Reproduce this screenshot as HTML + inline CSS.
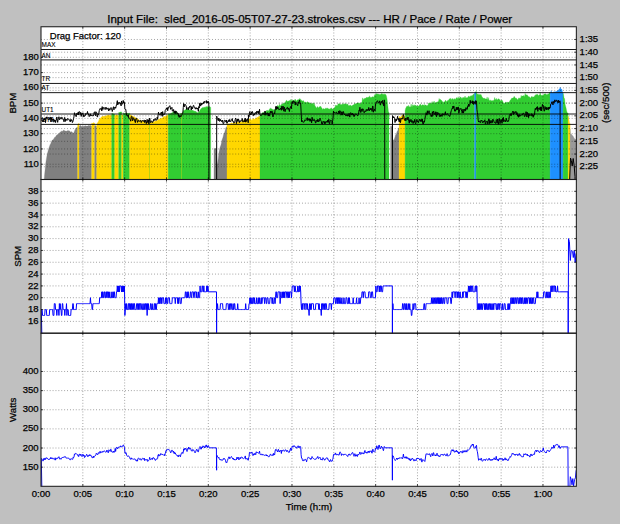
<!DOCTYPE html>
<html><head><meta charset="utf-8"><title>HR / Pace / Rate / Power</title>
<style>
html,body{margin:0;padding:0;background:#c0c0c0;}
body{width:620px;height:524px;overflow:hidden;position:relative;}
svg text{font-family:"Liberation Sans",Arial,Helvetica,sans-serif;stroke:#000;stroke-width:0.25px;}
</style></head><body>
<svg width="620" height="524" viewBox="0 0 620 524" style="position:absolute;left:0;top:0;display:block">
<defs><clipPath id="c1"><rect x="41" y="26.75" width="535.35" height="152.75"/></clipPath>
<clipPath id="c2"><rect x="41" y="179.5" width="535.35" height="153.7"/></clipPath>
<clipPath id="c3"><rect x="41" y="333.2" width="535.35" height="153.1"/></clipPath></defs>
<rect x="0" y="0" width="620" height="524" fill="#c0c0c0"/>
<rect x="41" y="26.75" width="535.35" height="152.75" fill="#fff"/>
<rect x="41" y="179.5" width="535.35" height="153.7" fill="#fff"/>
<rect x="41" y="333.2" width="535.35" height="153.1" fill="#fff"/>
<g clip-path="url(#c1)">
<path d="M44.2 179.5L44.2 179.07L44.7 173.61L45.2 168.7L45.7 163.65L46.2 160.14L46.7 157.18L47.2 154.38L47.7 152.38L48.2 150.42L48.7 148.7L49.2 147.29L49.7 145.76L50.2 144.51L50.7 143.67L51.2 142.17L51.7 141.27L52.2 140.09L52.7 139.95L53.2 139.49L53.7 139.03L54.2 138.21L54.7 137.22L55.2 137.19L55.7 136.5L56.2 135.78L56.7 135.09L57.2 134.64L57.7 134.51L58.2 134.3L58.7 133.65L59.2 133.46L59.7 132.61L60.2 132.29L60.7 131.85L61.2 131.4L61.7 131.1L62.2 131.27L62.7 131.17L63.2 130.4L63.7 129.94L64.2 130.45L64.7 130.72L65.2 130.96L65.7 131.12L66.2 131.36L66.7 131.1L67.2 130.71L67.7 130.7L68.2 130.24L68.7 130.98L69.2 130.75L69.7 131.07L70.2 131.75L70.7 132.03L71.2 131.69L71.7 131.81L72.2 131.92L72.7 132.97L73.2 133.62L73.7 132.78L74.2 131.65L74.7 130.46L75.2 129.4L75.7 128.5L76.2 127.91L76.7 127.51L77.2 127.08L77.7 127.08L77.7 179.5Z" fill="#808080" stroke="#808080" stroke-width="0.3"/>
<path d="M77.7 179.5L77.7 124.04L78.2 123.82L78.7 123.6L79.2 123.6L79.2 179.5Z" fill="#ffd700" stroke="#ffd700" stroke-width="0.3"/>
<path d="M79.2 179.5L79.2 126.43L79.7 125.85L80.2 125.55L80.7 125.56L81.2 126.27L81.7 126.51L82.2 126.04L82.7 126.41L83.2 126.61L83.7 126.2L84.2 125.75L84.7 126.19L85.2 125.95L85.7 125.56L86.2 126.24L86.7 126.04L87.2 125.91L87.7 126.06L88.2 125.76L88.7 125.36L89.2 125.59L89.7 125.68L90.2 125.32L90.7 125.55L91.2 126.09L91.7 126.09L91.7 179.5Z" fill="#808080" stroke="#808080" stroke-width="0.3"/>
<path d="M91.7 179.5L91.7 123.06L92.2 123.33L92.7 123.4L93.2 122.95L93.7 122.56L94.2 123.1L94.7 123.1L94.7 179.5Z" fill="#ffd700" stroke="#ffd700" stroke-width="0.3"/>
<path d="M94.7 179.5L94.7 126.08L95.2 125.81L95.7 125.58L96.2 126.2L96.7 126.2L96.7 179.5Z" fill="#808080" stroke="#808080" stroke-width="0.3"/>
<path d="M96.7 179.5L96.7 124.64L97.2 123.25L97.7 122.58L98.2 121.82L98.7 120.77L99.2 119.54L99.7 118.86L100.2 118.47L100.7 117.81L101.2 117.35L101.7 116.74L102.2 116.47L102.7 116.37L103.2 116.35L103.7 116.19L104.2 116.62L104.7 115.85L105.2 116.38L105.7 115.7L106.2 115.98L106.7 115.36L107.2 115.48L107.7 115.27L108.2 114.77L108.7 115.35L109.2 115.6L109.7 115.08L110.2 115.38L110.7 115.16L111.2 115.59L111.7 115.59L111.7 179.5Z" fill="#ffd700" stroke="#ffd700" stroke-width="0.3"/>
<path d="M111.7 179.5L111.7 113.57L112.2 113.57L112.7 113.39L113.2 113.76L113.7 114.09L114.2 114.3L114.7 114.3L114.7 179.5Z" fill="#32cd32" stroke="#32cd32" stroke-width="0.3"/>
<path d="M114.7 179.5L114.7 115.46L115.2 115.16L115.7 115.46L116.2 114.82L116.7 114.69L117.2 115.16L117.7 115.01L118.2 115.54L118.7 115.54L118.7 179.5Z" fill="#ffd700" stroke="#ffd700" stroke-width="0.3"/>
<path d="M118.7 179.5L118.7 112.49L119.2 112.56L119.7 112.32L120.2 111.98L120.7 111.93L121.2 111.9L121.7 111.9L121.7 179.5Z" fill="#32cd32" stroke="#32cd32" stroke-width="0.3"/>
<path d="M121.7 179.5L121.7 114.7L122.2 114.9L122.7 115.07L123.2 115.07L123.2 179.5Z" fill="#ffd700" stroke="#ffd700" stroke-width="0.3"/>
<path d="M123.2 179.5L123.2 112.74L123.7 113.15L124.2 113.14L124.7 113.67L125.2 113.03L125.7 113.13L126.2 113.18L126.7 113.08L127.2 113.59L127.7 113.12L128.2 113.66L128.7 113.35L129.2 113.2L129.7 113.2L129.7 179.5Z" fill="#32cd32" stroke="#32cd32" stroke-width="0.3"/>
<path d="M129.7 179.5L129.7 114.98L130.2 115.19L130.7 115.07L131.2 114.89L131.7 115.91L132.2 115.88L132.7 115.72L133.2 116.39L133.7 116.69L134.2 116.75L134.7 116.91L135.2 117.69L135.7 117.63L136.2 117.82L136.7 118.65L137.2 118.53L137.7 118.82L138.2 118.92L138.7 119.74L139.2 120.24L139.7 120.22L140.2 120.25L140.7 120.15L141.2 120.8L141.7 120.8L142.2 121.29L142.7 121.09L143.2 121.47L143.7 120.94L144.2 120.98L144.7 121.89L145.2 122.07L145.7 122.22L146.2 122.16L146.7 122.19L147.2 121.97L147.7 121.92L148.2 122.48L148.7 122.86L149.2 122.62L149.7 123L150.2 122.58L150.7 122.76L151.2 122.27L151.7 122.34L152.2 122.08L152.7 122.14L153.2 121.63L153.7 121.71L154.2 121.81L154.7 121.24L155.2 120.98L155.7 121.09L156.2 120.83L156.7 120.63L157.2 120.56L157.7 120.13L158.2 119.39L158.7 119.14L159.2 119.29L159.7 118.91L160.2 118.82L160.7 118.22L161.2 117.9L161.7 118.19L162.2 118.03L162.7 117.63L163.2 116.71L163.7 116.71L164.2 115.94L164.7 116.46L165.2 116.63L165.7 116.33L166.2 115.56L166.7 115.74L167.2 114.97L167.7 115.22L168.2 115.22L168.2 179.5Z" fill="#ffd700" stroke="#ffd700" stroke-width="0.3"/>
<path d="M168.2 179.5L168.2 114.35L168.7 113.6L169.2 114.05L169.7 113.63L170.2 113.75L170.7 113.52L171.2 113.11L171.7 113.17L172.2 112.34L172.7 112.72L173.2 112.24L173.7 111.64L174.2 111.66L174.7 111.32L175.2 111.13L175.7 111.94L176.2 111.89L176.7 112.05L177.2 112.4L177.7 112.68L178.2 113.65L178.7 114.21L179.2 114.4L179.7 114.42L180.2 113.74L180.7 113.74L181.2 113.09L181.7 113.42L182.2 113.09L182.7 112.44L183.2 111.27L183.7 110.26L184.2 110.55L184.7 110.15L185.2 109.85L185.7 109.81L186.2 108.82L186.7 108.81L187.2 108.81L187.7 109.35L188.2 109.36L188.7 109.21L189.2 110L189.7 109.68L190.2 110.12L190.7 110.48L191.2 110.08L191.7 110.45L192.2 110.37L192.7 110.22L193.2 110.26L193.7 111.19L194.2 111.06L194.7 111.26L195.2 111.44L195.7 111.09L196.2 111.84L196.7 112.28L197.2 112.78L197.7 112.56L198.2 112.43L198.7 111.99L199.2 111.53L199.7 110.77L200.2 109.67L200.7 109.15L201.2 108.28L201.7 108.46L202.2 107.8L202.7 107.58L203.2 107.78L203.7 107.18L204.2 107.44L204.7 107.1L205.2 107.4L205.7 106.7L206.2 106.54L206.7 106.82L207.2 106.72L207.7 106.52L208.2 106.65L208.7 106.45L209.2 106.68L209.7 106.38L210.2 107.19L210.7 107.19L210.7 179.5Z" fill="#32cd32" stroke="#32cd32" stroke-width="0.3"/>
<path d="M214 179.5L214 147.88L214.5 148.67L215 148.56L215.5 148.59L216 148.64L216.5 147.82L217 163.95L217.5 163.46L218 160.18L218.5 156.36L219 152.24L219.5 149.82L220 147.61L220.5 146.11L221 145L221.5 142.29L222 140.02L222.5 138.61L223 137.23L223.5 135.09L224 133.34L224.5 132.8L225 131.1L225.5 129.17L226 127.61L226.5 126.83L227 126.83L227 179.5Z" fill="#808080" stroke="#808080" stroke-width="0.3"/>
<path d="M227 179.5L227 123.57L227.5 123.79L228 123.94L228.5 123.8L229 123.8L229.5 124.32L230 123.11L230.5 124.07L231 123.21L231.5 122.5L232 123.38L232.5 123.39L233 123.29L233.5 122.66L234 123.28L234.5 122.71L235 123.12L235.5 122.41L236 122.62L236.5 122.8L237 122.37L237.5 122.31L238 121.53L238.5 122.11L239 122.4L239.5 121.56L240 121.8L240.5 122.16L241 121.2L241.5 121.97L242 122.31L242.5 121.02L243 120.72L243.5 120.25L244 120.27L244.5 119.94L245 120.42L245.5 120.18L246 120.1L246.5 120.29L247 120.16L247.5 120.76L248 120.86L248.5 119.8L249 119.44L249.5 118.84L250 119.05L250.5 118.7L251 119.47L251.5 119.89L252 120.38L252.5 119.19L253 118.3L253.5 119.05L254 118.73L254.5 119.41L255 118.72L255.5 118.21L256 117.41L256.5 118.27L257 117.71L257.5 117.14L258 116.68L258.5 116.83L259 116.8L259.5 115.99L260 115.99L260 179.5Z" fill="#ffd700" stroke="#ffd700" stroke-width="0.3"/>
<path d="M260 179.5L260 113.79L260.5 114.48L261 114.29L261.5 113.75L262 113.04L262.5 112.34L263 113.83L263.5 112.32L264 112.56L264.5 112.28L265 111.74L265.5 112.05L266 111.88L266.5 110.26L267 110.87L267.5 110.37L268 110.56L268.5 110.69L269 110.18L269.5 109.06L270 108.43L270.5 108.13L271 108.57L271.5 108.8L272 108.93L272.5 109.16L273 110L273.5 109.47L274 110.12L274.5 109.86L275 108.96L275.5 107.94L276 106.75L276.5 107.31L277 106.5L277.5 105.54L278 105.61L278.5 106.37L279 105.48L279.5 103.93L280 106.11L280.5 105.85L281 104.81L281.5 104.39L282 103.78L282.5 104.34L283 103.72L283.5 102.78L284 103.57L284.5 103.2L285 102.87L285.5 102L286 100.87L286.5 100.31L287 100.75L287.5 101.71L288 100.75L288.5 101.19L289 100.83L289.5 100.5L290 100.48L290.5 100.48L291 99.12L291.5 101.02L292 100.34L292.5 100.4L293 99.97L293.5 100.45L294 100.61L294.5 100.48L295 98.97L295.5 99.49L296 100.62L296.5 101.04L297 100.22L297.5 99.64L298 100.04L298.5 99.85L299 99.05L299.5 98.6L300 99.38L300.5 98.9L301 100.35L301.5 100.2L302 100.7L302.5 100.95L303 101.04L303.5 100.53L304 101.65L304.5 102.22L305 102.24L305.5 102.13L306 102.44L306.5 102.52L307 102.43L307.5 101.62L308 102.37L308.5 103.01L309 102.36L309.5 102.95L310 103.02L310.5 102.95L311 103.24L311.5 103.76L312 104.09L312.5 103.16L313 102.93L313.5 103.12L314 105.34L314.5 103.4L315 106.26L315.5 106.26L316 107.49L316.5 108.15L317 107.04L317.5 106.42L318 107.55L318.5 107.68L319 107.13L319.5 106.85L320 106.3L320.5 106.5L321 106.48L321.5 107.78L322 108.37L322.5 109.73L323 108.44L323.5 108.82L324 108.84L324.5 109.28L325 108.58L325.5 108.75L326 107.72L326.5 108.53L327 108.72L327.5 107.9L328 108.18L328.5 109.12L329 108.72L329.5 108.89L330 109.58L330.5 108.39L331 107.78L331.5 108.21L332 108.44L332.5 109.19L333 108.63L333.5 108.84L334 108.45L334.5 107.33L335 107.57L335.5 105.22L336 105L336.5 105.61L337 105.9L337.5 105.24L338 104.04L338.5 103.89L339 103.46L339.5 103.75L340 103.9L340.5 104.49L341 104.49L341.5 104.41L342 104.91L342.5 103.44L343 103.74L343.5 104.21L344 104.29L344.5 103.91L345 103.43L345.5 103.87L346 104.06L346.5 104.29L347 104.5L347.5 103.79L348 104.47L348.5 105.63L349 105.44L349.5 105.58L350 105.23L350.5 104.98L351 105.76L351.5 106.13L352 105.4L352.5 105.45L353 105.12L353.5 104.76L354 104.77L354.5 103.84L355 103.56L355.5 104.04L356 103.75L356.5 102.99L357 103.6L357.5 102.89L358 103L358.5 102.72L359 103.15L359.5 103.06L360 103.53L360.5 104.15L361 102.69L361.5 102.43L362 101.94L362.5 97.94L363 98.13L363.5 99.76L364 99.52L364.5 98.33L365 98.58L365.5 98.06L366 98.24L366.5 97.31L367 97.32L367.5 97.84L368 96.99L368.5 97.32L369 97.61L369.5 95.72L370 97.36L370.5 97.7L371 96.8L371.5 97.81L372 96.98L372.5 96.74L373 96.71L373.5 97.21L374 96.4L374.5 94.97L375 94.26L375.5 94.69L376 94.6L376.5 93.78L377 93.61L377.5 94.21L378 93.69L378.5 94.42L379 94.11L379.5 94.72L380 94.2L380.5 94.67L381 93.86L381.5 93.92L382 93.36L382.5 94.53L383 94.02L383.5 94.66L384 93.65L384.5 94.25L385 94.38L385.5 94.34L386 94.86L386.5 96.27L387 98.64L387.5 102.86L388 107.28L388.5 112.21L389 112.21L389 179.5Z" fill="#32cd32" stroke="#32cd32" stroke-width="0.3"/>
<path d="M390.6 179.5L390.6 126.83L391.1 125.57L391.6 126.4L392.1 126.72L392.6 140.11L393.1 140.61L393.6 139.79L394.1 139.79L394.6 138.21L395.1 136.65L395.6 134.85L396.1 134.38L396.6 133.46L397.1 131.3L397.6 131.19L398.1 129.21L398.6 127.93L399.1 127.93L399.1 179.5Z" fill="#808080" stroke="#808080" stroke-width="0.3"/>
<path d="M399.1 179.5L399.1 116.2L399.6 116.4L400.1 116.97L400.6 117.27L401.1 116.83L401.6 116.12L402.1 115.32L402.6 114.84L403.1 115.34L403.6 115.63L404.1 115.48L404.6 116.27L405.1 116.27L405.1 179.5Z" fill="#ffd700" stroke="#ffd700" stroke-width="0.3"/>
<path d="M405.1 179.5L405.1 110.8L405.6 108.53L406.1 107.53L406.6 106.54L407.1 105.97L407.6 106.17L408.1 107.12L408.6 105.26L409.1 106.18L409.6 107.1L410.1 107.23L410.6 106.81L411.1 104L411.6 106.29L412.1 106.88L412.6 104.48L413.1 106.22L413.6 105.21L414.1 104.69L414.6 105.41L415.1 105.42L415.6 104.96L416.1 105.79L416.6 105.97L417.1 106.17L417.6 105.98L418.1 105.7L418.6 106.25L419.1 105.72L419.6 104.74L420.1 104.54L420.6 104.07L421.1 105.32L421.6 105.63L422.1 104.94L422.6 104.74L423.1 104.74L423.6 105.12L424.1 105.99L424.6 104.41L425.1 105.05L425.6 105.07L426.1 105L426.6 105.79L427.1 106.14L427.6 105.11L428.1 104.73L428.6 103.03L429.1 102.95L429.6 103.32L430.1 103.65L430.6 102.9L431.1 103.23L431.6 102.7L432.1 101.42L432.6 103.37L433.1 102.72L433.6 102.33L434.1 101L434.6 102.58L435.1 103.31L435.6 102.54L436.1 102.82L436.6 102.11L437.1 101.65L437.6 102.11L438.1 101.85L438.6 100.96L439.1 98.43L439.6 99.74L440.1 99.48L440.6 99.56L441.1 99.93L441.6 100.53L442.1 101.04L442.6 101.71L443.1 102.45L443.6 102.29L444.1 101.62L444.6 102.21L445.1 101.09L445.6 100.08L446.1 101.05L446.6 101.64L447.1 101.28L447.6 100.54L448.1 100.54L448.6 99.98L449.1 99.2L449.6 98.78L450.1 99.08L450.6 97.94L451.1 99.94L451.6 98.92L452.1 98.82L452.6 98.48L453.1 99.31L453.6 99.63L454.1 98.4L454.6 99.12L455.1 99.29L455.6 99.19L456.1 98.03L456.6 97.5L457.1 98.31L457.6 98.6L458.1 96.72L458.6 98.3L459.1 98.2L459.6 97.86L460.1 97.21L460.6 96.97L461.1 97.85L461.6 98.73L462.1 97.28L462.6 98.79L463.1 97.44L463.6 97.52L464.1 98.16L464.6 97.09L465.1 96.01L465.6 98.17L466.1 97.33L466.6 98.11L467.1 97.89L467.6 97.49L468.1 96.59L468.6 96.25L469.1 96.15L469.6 97.28L470.1 96.13L470.6 96.19L471.1 95.43L471.6 96.02L472.1 96.22L472.6 95.05L473.1 94.57L473.6 94.3L474.1 93.83L474.6 93.83L474.6 179.5Z" fill="#32cd32" stroke="#32cd32" stroke-width="0.3"/>
<path d="M474.6 179.5L474.6 93.35L475.1 92.06L475.6 91.99L476.1 91.99L476.1 179.5Z" fill="#1e90ff" stroke="#1e90ff" stroke-width="0.3"/>
<path d="M476.1 179.5L476.1 91.04L476.6 93.31L477.1 93.75L477.6 94.14L478.1 94.39L478.6 94.28L479.1 94.7L479.6 94.24L480.1 94.9L480.6 94.44L481.1 94.57L481.6 96.03L482.1 97.05L482.6 97.46L483.1 98.1L483.6 98.29L484.1 98.8L484.6 98.11L485.1 98.44L485.6 98.96L486.1 99.04L486.6 99.1L487.1 96.93L487.6 99.2L488.1 99.83L488.6 97.59L489.1 100.76L489.6 100.5L490.1 99.74L490.6 100.76L491.1 100.28L491.6 101.04L492.1 100.52L492.6 100.78L493.1 100.85L493.6 100.29L494.1 100.27L494.6 97.45L495.1 98.67L495.6 99.39L496.1 100.07L496.6 98.25L497.1 99.43L497.6 100.07L498.1 98.95L498.6 98.8L499.1 98.89L499.6 99.86L500.1 100.23L500.6 100.88L501.1 100.21L501.6 99.76L502.1 101.06L502.6 100.61L503.1 102.61L503.6 102.75L504.1 103.61L504.6 102.89L505.1 102.6L505.6 102.25L506.1 102.57L506.6 102.25L507.1 102.03L507.6 102.21L508.1 102.73L508.6 102.3L509.1 102.34L509.6 101.36L510.1 100.31L510.6 99.98L511.1 99.26L511.6 98.2L512.1 98.08L512.6 98.24L513.1 97.83L513.6 97.82L514.1 96.33L514.6 96.86L515.1 97.76L515.6 98.34L516.1 98.18L516.6 98.25L517.1 99.25L517.6 99.64L518.1 99.4L518.6 98.11L519.1 97.76L519.6 98.41L520.1 97.9L520.6 98.47L521.1 95.33L521.6 96.79L522.1 96.1L522.6 96.06L523.1 95.81L523.6 95.4L524.1 96.4L524.6 96.28L525.1 93.35L525.6 94.75L526.1 94.87L526.6 95.03L527.1 94.73L527.6 95.5L528.1 95.96L528.6 97.01L529.1 96.52L529.6 97.11L530.1 97.66L530.6 98.34L531.1 97.11L531.6 96.48L532.1 96.37L532.6 97.37L533.1 96.95L533.6 96.94L534.1 96.64L534.6 95.74L535.1 95.56L535.6 94.66L536.1 94.66L536.6 94.56L537.1 94.74L537.6 93.91L538.1 95.54L538.6 95.61L539.1 95.04L539.6 95L540.1 92.5L540.6 94.52L541.1 94.96L541.6 95.53L542.1 95.83L542.6 94.99L543.1 95.27L543.6 94.63L544.1 93.88L544.6 93.96L545.1 93.69L545.6 93.77L546.1 94.46L546.6 94.47L547.1 94.74L547.6 94.34L548.1 93.68L548.6 94.27L549.1 93.31L549.6 92.43L550.1 92.43L550.1 179.5Z" fill="#32cd32" stroke="#32cd32" stroke-width="0.3"/>
<path d="M550.1 179.5L550.1 92.88L550.6 92.74L551.1 90.6L551.6 91.86L552.1 92.44L552.6 92.9L553.1 92.48L553.6 92.2L554.1 91.39L554.6 91.95L555.1 91.67L555.6 91.79L556.1 91.27L556.6 91.62L557.1 91.03L557.6 90.63L558.1 90.34L558.6 90.12L559.1 89.06L559.6 89.02L560.1 87.04L560.6 88.52L561.1 89.12L561.6 88.99L562.1 90.12L562.6 92.5L563.1 92.5L563.1 179.5Z" fill="#1e90ff" stroke="#1e90ff" stroke-width="0.3"/>
<path d="M563.1 179.5L563.1 93.44L563.6 95.38L564.1 98.06L564.6 98.8L565.1 104.18L565.6 106.13L566.1 108.11L566.6 110.65L567.1 112.4L567.6 113.09L568.1 113.09L568.1 179.5Z" fill="#32cd32" stroke="#32cd32" stroke-width="0.3"/>
<path d="M568.1 179.5L568.1 116L568.6 117.76L569.1 120.24L569.6 123.5L570.1 123.5L570.1 179.5Z" fill="#ffd700" stroke="#ffd700" stroke-width="0.3"/>
<path d="M570.1 179.5L570.1 128.84L570.6 134.07L571.1 133.98L571.6 134.51L572.1 134.98L572.6 135.86L573.1 136.07L573.6 137.24L574.1 137.65L574.6 138.66L575.1 139.12L575.6 139.6L576.1 139.53L576.6 139.53L576.6 179.5Z" fill="#808080" stroke="#808080" stroke-width="0.3" fill-opacity="0.8" stroke-opacity="0.5"/>
<rect x="149.3" y="122.8" width="0.6" height="57" fill="#32cd32" fill-opacity="0.6"/>
<rect x="181.0" y="113.2" width="0.55" height="67" fill="#ffd700" fill-opacity="0.6"/>
</g>
<path d="M82.83 26.75V179.5M124.66 26.75V179.5M166.49 26.75V179.5M208.32 26.75V179.5M250.15 26.75V179.5M291.98 26.75V179.5M333.81 26.75V179.5M375.64 26.75V179.5M417.47 26.75V179.5M459.3 26.75V179.5M501.13 26.75V179.5M542.96 26.75V179.5M82.83 179.5V333.2M124.66 179.5V333.2M166.49 179.5V333.2M208.32 179.5V333.2M250.15 179.5V333.2M291.98 179.5V333.2M333.81 179.5V333.2M375.64 179.5V333.2M417.47 179.5V333.2M459.3 179.5V333.2M501.13 179.5V333.2M542.96 179.5V333.2M82.83 333.2V486.3M124.66 333.2V486.3M166.49 333.2V486.3M208.32 333.2V486.3M250.15 333.2V486.3M291.98 333.2V486.3M333.81 333.2V486.3M375.64 333.2V486.3M417.47 333.2V486.3M459.3 333.2V486.3M501.13 333.2V486.3M542.96 333.2V486.3M41 164.22H576.35M41 148.95H576.35M41 133.68H576.35M41 118.4H576.35M41 103.12H576.35M41 87.85H576.35M41 72.58H576.35M41 57.3H576.35M41 39.48H576.35M41 52.21H576.35M41 64.94H576.35M41 77.67H576.35M41 90.4H576.35M41 103.12H576.35M41 115.85H576.35M41 128.58H576.35M41 141.31H576.35M41 154.04H576.35M41 166.77H576.35M41 321.38H576.35M41 309.55H576.35M41 297.73H576.35M41 285.91H576.35M41 274.08H576.35M41 262.26H576.35M41 250.44H576.35M41 238.62H576.35M41 226.79H576.35M41 214.97H576.35M41 203.15H576.35M41 191.32H576.35M41 467.16H576.35M41 448.02H576.35M41 428.89H576.35M41 409.75H576.35M41 390.61H576.35M41 371.48H576.35" stroke="#000" stroke-opacity="0.62" stroke-width="0.65" stroke-dasharray="0.9 2.0" fill="none"/>
<path d="M41 49.5H576.35" stroke="#000" stroke-width="0.9" fill="none"/>
<path d="M41 59.9H576.35" stroke="#000" stroke-width="0.9" fill="none"/>
<path d="M41 83.45H576.35" stroke="#000" stroke-width="0.9" fill="none"/>
<path d="M41 92.65H576.35" stroke="#000" stroke-width="0.9" fill="none"/>
<path d="M41 114H576.35" stroke="#000" stroke-width="0.9" fill="none"/>
<path d="M41 124.4H576.35" stroke="#000" stroke-width="0.9" fill="none"/>
<text x="41.6" y="47.2" font-size="6.4" fill="#000" style="stroke-width:0.12px">MAX</text>
<text x="41.6" y="57.6" font-size="6.4" fill="#000" style="stroke-width:0.12px">AN</text>
<text x="41.6" y="81.15" font-size="6.4" fill="#000" style="stroke-width:0.12px">TR</text>
<text x="41.6" y="90.35" font-size="6.4" fill="#000" style="stroke-width:0.12px">AT</text>
<text x="41.6" y="111.7" font-size="6.4" fill="#000" style="stroke-width:0.12px">UT1</text>
<text x="41.6" y="122.1" font-size="6.4" fill="#000" style="stroke-width:0.12px">UT2</text>
<text x="49.8" y="38.6" font-size="9.5" fill="#000">Drag Factor: 120</text>
<g clip-path="url(#c1)">
<path d="M41.3 120.72L41.72 119.63L42.14 119.99L42.56 120.31L42.98 122L43.4 120.95L43.82 118.46L44.24 120.09L44.66 118.61L45.08 118.04L45.5 122.59L45.92 119.84L46.34 118.03L46.76 116.84L47.18 118.82L47.6 118.95L48.02 119.46L48.44 119.44L48.86 119.76L49.28 117.77L49.7 119.68L50.12 119.38L50.54 117.3L50.96 121.5L51.38 117.78L51.8 119.75L52.22 119.15L52.64 120.67L53.06 120.5L53.48 119.01L53.9 122.2L54.32 121.04L54.74 119.75L55.16 119.95L55.58 122.55L56 120.05L56.42 119.87L56.84 116.99L57.26 120.16L57.68 122.36L58.1 119.7L58.52 118.51L58.94 116.79L59.36 119.81L59.78 119.09L60.2 118.42L60.62 117.56L61.04 119.2L61.46 118.47L61.88 117.16L62.3 118.31L62.72 119.36L63.14 119.54L63.56 119.37L63.98 121.78L64.4 117.64L64.82 117.39L65.24 121.54L65.66 119.02L66.08 119.74L66.5 119.38L66.92 120.57L67.34 119.45L67.76 118.46L68.18 119.48L68.6 118.87L69.02 119.35L69.44 120.74L69.86 120.72L70.28 121.92L70.7 119.46L71.12 120.87L71.54 119.64L71.96 120.43L72.38 122.54L72.8 121.86L73.22 120.09L73.64 118.34L74.06 116.36L74.48 112.73L74.9 114.03L75.32 115.34L75.74 115.22L76.16 116.7L76.58 114.17L77 113.05L77.42 114.57L77.84 114.42L78.26 111.97L78.68 114.99L79.1 111.54L79.52 111.72L79.94 111.98L80.36 114.4L80.78 112.52L81.2 116.42L81.62 113.54L82.04 113.64L82.46 113.92L82.88 112.77L83.3 116.72L83.72 114.83L84.14 116.47L84.56 116.33L84.98 115.28L85.4 115.45L85.82 113.4L86.24 113.84L86.66 114.26L87.08 113.62L87.5 111.49L87.92 114.02L88.34 113.76L88.76 115.26L89.18 116.65L89.6 116.09L90.02 114.07L90.44 113.9L90.86 116.05L91.28 115.09L91.7 115.49L92.12 115.74L92.54 115.96L92.96 115.18L93.38 115.73L93.8 114.28L94.22 112.21L94.64 111.77L95.06 114.36L95.48 115.72L95.9 111.74L96.32 112.82L96.74 112.8L97.16 116.36L97.58 117.12L98 113.63L98.42 114.71L98.84 113.53L99.26 110.62L99.68 109.22L100.1 108.57L100.52 109.36L100.94 108.38L101.36 108.39L101.78 111.03L102.2 106.62L102.62 109.3L103.04 109.6L103.46 107.49L103.88 107.68L104.3 107.94L104.72 107.73L105.14 109.58L105.56 108.85L105.98 107.05L106.4 109.21L106.82 108.48L107.24 109.23L107.66 108.5L108.08 107.89L108.5 110.8L108.92 109.11L109.34 108.62L109.76 110.35L110.18 109.6L110.6 108.48L111.02 107.51L111.44 109.33L111.86 109.23L112.28 111.53L112.7 109.65L113.12 107.81L113.54 106.72L113.96 109.83L114.38 107.48L114.8 107.68L115.22 106.94L115.64 108.32L116.06 106.71L116.48 104.74L116.9 103.37L117.32 100.63L117.74 105.03L118.16 102.29L118.58 103.62L119 103.42L119.42 102.36L119.84 102.73L120.26 104.27L120.68 102.79L121.1 105.91L121.52 100.96L121.94 103.39L122.36 104.07L122.78 104.18L123.2 100.42L123.62 103.07L124.04 101.66L124.46 102.7L124.88 108.79L125.3 109.62L125.72 109.22L126.14 112.08L126.56 115.11L126.98 115.07L127.4 116.22L127.82 116.08L128.24 114.81L128.66 117.86L129.08 117.74L129.5 118.39L129.92 119.05L130.34 119.92L130.76 121.22L131.18 116.72L131.6 116.21L132.02 116.81L132.44 120.72L132.86 119.37L133.28 117.67L133.7 118.55L134.12 120.31L134.54 119.55L134.96 121.81L135.38 122.68L135.8 118.76L136.22 118.27L136.64 118.2L137.06 120.52L137.48 122.42L137.9 120.58L138.32 120.2L138.74 121.24L139.16 121.69L139.58 120.87L140 120.37L140.42 120.33L140.84 121.8L141.26 122.56L141.68 121.11L142.1 120.27L142.52 120.47L142.94 121.52L143.36 121.31L143.78 121.07L144.2 119.88L144.62 122.55L145.04 121.88L145.46 120.08L145.88 122.15L146.3 123.64L146.72 121.15L147.14 119.37L147.56 121.94L147.98 122.77L148.4 119.69L148.82 123.93L149.24 122.86L149.66 118.04L150.08 119.96L150.5 122.6L150.92 122.6L151.34 121.4L151.76 120.72L152.18 122.52L152.6 122.53L153.02 121.1L153.44 121.07L153.86 119.16L154.28 120.25L154.7 120.33L155.12 118.78L155.54 118.6L155.96 120.4L156.38 119.96L156.8 120.06L157.22 117.1L157.64 119.26L158.06 115.8L158.48 112.09L158.9 113.98L159.32 114.36L159.74 115.08L160.16 115.2L160.58 113.39L161 112.63L161.42 112.06L161.84 115.57L162.26 116.35L162.68 111.6L163.1 115.3L163.52 114.86L163.94 114L164.36 114.11L164.78 114.36L165.2 110.44L165.62 109.78L166.04 109.94L166.46 107.89L166.88 108.91L167.3 107.7L167.72 110.71L168.14 107.58L168.56 108.21L168.98 106.52L169.4 106.43L169.82 105.67L170.24 107.13L170.66 109.37L171.08 108.81L171.5 108.34L171.92 107.34L172.34 111.06L172.76 110.99L173.18 110.96L173.6 109.47L174.02 112.65L174.44 111.44L174.86 113.4L175.28 110.82L175.7 113.47L176.12 111.7L176.54 111.38L176.96 112.84L177.38 114.01L177.8 113.09L178.22 113.62L178.64 116.45L179.06 117.46L179.48 117.11L179.9 115.22L180.32 116.38L180.74 117.09L181.16 116.02L181.58 115.76L182 114.49L182.42 113.37L182.84 113.11L183.26 107.66L183.68 103.54L184.1 106.91L184.52 106.56L184.94 104.12L185.36 104.84L185.78 105.18L186.2 105.9L186.62 109.41L187.04 107.7L187.46 107.94L187.88 108.37L188.3 109.92L188.72 107.4L189.14 108.23L189.56 106.22L189.98 106.81L190.4 105.86L190.82 106.08L191.24 110.09L191.66 106.84L192.08 107.2L192.5 108.83L192.92 106.88L193.34 105.41L193.76 105.44L194.18 107.16L194.6 107.91L195.02 108.28L195.44 109.18L195.86 107.54L196.28 108.63L196.7 107.81L197.12 109.14L197.54 108.12L197.96 109.41L198.38 111.33L198.8 106.59L199.22 107.98L199.64 103.29L200.06 102.87L200.48 105.99L200.9 105.76L201.32 103.28L201.74 104.88L202.16 103.25L202.58 103.81L203 104.01L203.42 102.12L203.84 103.39L204.26 101.21L204.68 102.49L205.1 102.52L205.52 102.11L205.94 101.54L206.36 100.59L206.78 103.2L207.2 101.55L207.62 103.05L208.04 101.05L208.46 101.54L208.88 105.48L208.98 219.5L216.6 219.5L216.7 116.15L217.12 117.43L217.54 118.45L217.96 120.27L218.38 120.8L218.8 118.01L219.22 120.42L219.64 121.43L220.06 119.04L220.48 120.83L220.9 119.97L221.32 120.33L221.74 121.83L222.16 121.37L222.58 120.2L223 123.63L223.42 123.57L223.84 123.43L224.26 120.32L224.68 120.23L225.1 120.27L225.52 121.03L225.94 122.11L226.36 119.97L226.78 123.25L227.2 123.26L227.62 121.6L228.04 120.71L228.46 121.57L228.88 119.81L229.3 121.58L229.72 119.45L230.14 121.35L230.56 121.92L230.98 121.08L231.4 120.31L231.82 119.25L232.24 118.57L232.66 121.37L233.08 121.37L233.5 121.37L233.92 123.29L234.34 122.51L234.76 122.37L235.18 119.48L235.6 117.99L236.02 119.62L236.44 123.55L236.86 120.91L237.28 118.86L237.7 121.31L238.12 121.46L238.54 119.06L238.96 120.44L239.38 122.66L239.8 120.82L240.22 120.59L240.64 121.54L241.06 121.4L241.48 119.93L241.9 119.36L242.32 118.47L242.74 121.96L243.16 121.67L243.58 121.97L244 120.59L244.42 119.5L244.84 122.02L245.26 118.05L245.68 122.2L246.1 119.46L246.52 121.36L246.94 120.47L247.36 118.81L247.78 119.89L248.2 122.77L248.62 115.09L249.04 116.69L249.46 113.34L249.88 111.57L250.3 114.94L250.72 113.55L251.14 114.74L251.56 111.87L251.98 113.22L252.4 111.49L252.82 112.75L253.24 115.71L253.66 114.32L254.08 113.84L254.5 115.15L254.92 112.89L255.34 112.46L255.76 112.62L256.18 114.23L256.6 111.45L257.02 110.98L257.44 112.63L257.86 112.03L258.28 111.03L258.7 113.8L259.12 111.66L259.54 109.26L259.96 114.91L260.38 115.48L260.8 115.32L261.22 115.44L261.64 115.06L262.06 114.82L262.48 113.54L262.9 113.36L263.32 113.14L263.74 114.26L264.16 114.93L264.58 114.73L265 110.98L265.42 113.11L265.84 115.29L266.26 113.28L266.68 113.36L267.1 113.1L267.52 112.84L267.94 115.07L268.36 115.89L268.78 113.23L269.2 116.16L269.62 115.29L270.04 113.24L270.46 111.24L270.88 112.91L271.3 112.85L271.72 111.24L272.14 111.14L272.56 114.56L272.98 116.92L273.4 114.29L273.82 113.65L274.24 112.72L274.66 113.97L275.08 110.26L275.5 108.45L275.92 106.36L276.34 109.5L276.76 106.54L277.18 108.93L277.6 107.02L278.02 107.47L278.44 108.47L278.86 109.76L279.28 109.46L279.7 109.69L280.12 109.08L280.54 108.15L280.96 109.4L281.38 110.27L281.8 106.19L282.22 109.25L282.64 109.32L283.06 106.13L283.48 109.16L283.9 111.24L284.32 107.18L284.74 109.3L285.16 111.64L285.58 109.04L286 108.63L286.42 108.84L286.84 109.01L287.26 107.16L287.68 107.42L288.1 109.54L288.52 108.15L288.94 109.24L289.36 111.55L289.78 109.05L290.2 107.96L290.62 106.63L291.04 106.47L291.46 108.62L291.88 102.69L292.3 101.47L292.72 103.63L293.14 101.8L293.56 100.72L293.98 102.14L294.4 102.27L294.82 101.62L295.24 105.1L295.66 102.14L296.08 103.73L296.5 104.21L296.92 104.1L297.34 104.71L297.76 105.75L298.18 101.86L298.6 103.36L299.02 102.16L299.44 100.14L299.86 101.68L300.28 104.04L300.7 103.44L301.12 111.97L301.54 121.63L301.96 120.19L302.38 121.75L302.8 121.72L303.22 121.63L303.64 122.38L304.06 121.81L304.48 121.31L304.9 119.67L305.32 120.05L305.74 120.31L306.16 120.41L306.58 119.59L307 117.69L307.42 117.81L307.84 120.69L308.26 119.05L308.68 118.73L309.1 119.99L309.52 118.68L309.94 121.38L310.36 118.85L310.78 120.93L311.2 120.2L311.62 123.01L312.04 117.22L312.46 118.21L312.88 120.92L313.3 120.66L313.72 120.03L314.14 119.25L314.56 120.6L314.98 120.36L315.4 122.89L315.82 123.02L316.24 120.72L316.66 121.19L317.08 119.92L317.5 121.53L317.92 119.23L318.34 121.36L318.76 122.06L319.18 120.16L319.6 120.58L320.02 118.14L320.44 119.58L320.86 120.69L321.28 121.32L321.7 123.75L322.12 123.22L322.54 124.26L322.96 121.53L323.38 122.18L323.8 121.37L324.22 122.07L324.64 123.72L325.06 121.51L325.48 123.42L325.9 122.82L326.32 121.67L326.74 121.41L327.16 122.08L327.58 120.27L328 122.49L328.42 121.79L328.84 119.29L329.26 123.57L329.68 123.9L330.1 121.01L330.52 120.6L330.94 119.92L331.36 120.72L331.78 121.33L332.2 124.01L332.62 120.82L333.04 117.86L333.46 111.16L333.88 112.91L334.3 112.37L334.72 112.98L335.14 113.23L335.56 112.82L335.98 112.52L336.4 112.14L336.82 113.17L337.24 113.88L337.66 113.44L338.08 113.97L338.5 110.99L338.92 112.42L339.34 113.78L339.76 110.65L340.18 111.1L340.6 111.27L341.02 115.16L341.44 113.52L341.86 111.77L342.28 115.1L342.7 113.06L343.12 111.41L343.54 111.78L343.96 114.09L344.38 114.83L344.8 113.95L345.22 114.7L345.64 114.9L346.06 116.02L346.48 114.79L346.9 114.43L347.32 114.38L347.74 116.2L348.16 115.6L348.58 115.59L349 113.43L349.42 115.88L349.84 117.1L350.26 113.62L350.68 112.65L351.1 113.85L351.52 115.03L351.94 113.5L352.36 113.05L352.78 115.06L353.2 115.32L353.62 113.93L354.04 116.68L354.46 114.8L354.88 115.47L355.3 114.27L355.72 113.97L356.14 114.18L356.56 114.35L356.98 115.34L357.4 115.34L357.82 115.87L358.24 114.74L358.66 113.01L359.08 110.06L359.5 110.71L359.92 107.28L360.34 112.05L360.76 112.51L361.18 109.16L361.6 109.28L362.02 111.5L362.44 108.75L362.86 109.62L363.28 109.25L363.7 110.47L364.12 112.79L364.54 112.12L364.96 111.34L365.38 110.92L365.8 111.64L366.22 109.34L366.64 109.72L367.06 110.88L367.48 109.88L367.9 109.29L368.32 110.17L368.74 107.44L369.16 110.85L369.58 110.02L370 108.77L370.42 108.28L370.84 109.9L371.26 108.71L371.68 108.59L372.1 111.42L372.52 106.18L372.94 106.01L373.36 112.21L373.78 110.43L374.2 109.79L374.62 109.09L375.04 111.15L375.46 103.9L375.88 104.31L376.3 101.94L376.72 101.99L377.14 101.25L377.56 100.69L377.98 101.9L378.4 103.01L378.82 102.92L379.24 102.48L379.66 100.84L380.08 104.68L380.5 104.94L380.92 102.67L381.34 101.32L381.76 102.77L382.18 101.72L382.6 100.48L383.02 104.24L383.44 102.76L383.86 106.06L384.28 99.87L384.7 102.43L384.8 219.5L392.4 219.5L392.5 115.63L392.92 116.29L393.34 118.02L393.76 116.74L394.18 117.23L394.6 118.72L395.02 122.53L395.44 120.73L395.86 119.1L396.28 121.08L396.7 118.94L397.12 118.73L397.54 116.3L397.96 119.67L398.38 120.28L398.8 118.31L399.22 122.07L399.64 119.38L400.06 118.33L400.48 122.62L400.9 119.94L401.32 118.73L401.74 118.04L402.16 118.83L402.58 119.06L403 116.21L403.42 114.46L403.84 116.54L404.26 119.59L404.68 119.16L405.1 120.87L405.52 118.25L405.94 120.59L406.36 118.48L406.78 117.86L407.2 117.65L407.62 119.66L408.04 117.03L408.46 120.13L408.88 121.06L409.3 123.18L409.72 119.61L410.14 121.18L410.56 121.56L410.98 119.42L411.4 120.3L411.82 122.45L412.24 121.35L412.66 120.64L413.08 123.52L413.5 121.94L413.92 121.25L414.34 122.26L414.76 119.28L415.18 122.46L415.6 123.85L416.02 122.78L416.44 120.08L416.86 119.4L417.28 121.88L417.7 120.95L418.12 121.26L418.54 122.69L418.96 120.52L419.38 119.23L419.8 120.48L420.22 119.64L420.64 121.49L421.06 120.3L421.48 119.5L421.9 121.68L422.32 118.88L422.74 123.58L423.16 124.18L423.58 123.02L424 120.97L424.42 122.21L424.84 119.62L425.26 116.86L425.68 115.46L426.1 112.7L426.52 113.13L426.94 115.06L427.36 110.77L427.78 113.37L428.2 113.67L428.62 112.25L429.04 110.72L429.46 112.76L429.88 114.16L430.3 113.69L430.72 114.73L431.14 116.45L431.56 115.31L431.98 116.65L432.4 111.7L432.82 115.58L433.24 112.79L433.66 111.18L434.08 112.81L434.5 114.36L434.92 113.67L435.34 114.83L435.76 111.73L436.18 115.79L436.6 116.75L437.02 112.14L437.44 113.77L437.86 115.19L438.28 112.88L438.7 113.06L439.12 114.16L439.54 114.11L439.96 116.86L440.38 115.06L440.8 115.95L441.22 114.45L441.64 115.1L442.06 116.42L442.48 113.87L442.9 113.67L443.32 114.59L443.74 113.9L444.16 115.27L444.58 114.6L445 113.25L445.42 111.7L445.84 115.15L446.26 115L446.68 114.65L447.1 113.91L447.52 113.62L447.94 114.59L448.36 115.2L448.78 115.06L449.2 115.82L449.62 116.48L450.04 115.29L450.46 114.71L450.88 112.01L451.3 110.68L451.72 109.39L452.14 108.31L452.56 108.73L452.98 106L453.4 108.27L453.82 105.94L454.24 108.64L454.66 111.19L455.08 109.63L455.5 111.21L455.92 109.88L456.34 107.3L456.76 109.91L457.18 107.46L457.6 109.62L458.02 107.07L458.44 107.12L458.86 113.27L459.28 111.11L459.7 109.44L460.12 108.61L460.54 109.26L460.96 108.46L461.38 109.62L461.8 111.59L462.22 113.07L462.64 110.92L463.06 109.06L463.48 113.05L463.9 111.27L464.32 109.63L464.74 108.98L465.16 111.11L465.58 108.98L466 107.58L466.42 108.2L466.84 109.66L467.26 109.27L467.68 106.16L468.1 106.45L468.52 104.08L468.94 106.59L469.36 105.25L469.78 105.15L470.2 100.31L470.62 103.16L471.04 101.92L471.46 102.27L471.88 102.7L472.3 100.75L472.72 103.85L473.14 101.21L473.56 104.46L473.98 103.35L474.4 101.67L474.82 103.24L475.24 104.26L475.66 100.64L476.08 101.21L476.5 101.09L476.92 109.45L477.34 112.68L477.76 114.77L478.18 120.14L478.6 122.06L479.02 120.85L479.44 121.25L479.86 121.89L480.28 122.7L480.7 121.25L481.12 120.18L481.54 121.04L481.96 120.52L482.38 122.66L482.8 122.23L483.22 122.48L483.64 121.21L484.06 121.93L484.48 120.47L484.9 119.76L485.32 124.01L485.74 124.11L486.16 121.32L486.58 121.54L487 121.47L487.42 121.31L487.84 124.02L488.26 121.5L488.68 119.03L489.1 118.77L489.52 123.61L489.94 120.53L490.36 121.91L490.78 123.19L491.2 120.47L491.62 121.73L492.04 123.1L492.46 122.19L492.88 119.1L493.3 120.54L493.72 120.4L494.14 122.35L494.56 122.82L494.98 122.31L495.4 123.2L495.82 123.61L496.24 119.57L496.66 120.26L497.08 122.94L497.5 118.99L497.92 122.56L498.34 124.46L498.76 121.1L499.18 118.41L499.6 121.55L500.02 123.62L500.44 122.52L500.86 119.54L501.28 119.53L501.7 121.99L502.12 123.33L502.54 118.51L502.96 120.62L503.38 117.41L503.8 121.83L504.22 120.48L504.64 120.02L505.06 119.67L505.48 122.01L505.9 121.43L506.32 118.29L506.74 120.51L507.16 120.58L507.58 121.64L508 120.9L508.42 121.35L508.84 119.8L509.26 116.7L509.68 115.74L510.1 114.16L510.52 115.38L510.94 113.42L511.36 115.55L511.78 113.9L512.2 112.41L512.62 112.09L513.04 111.02L513.46 114.66L513.88 112.33L514.3 113.53L514.72 113.17L515.14 111.64L515.56 112.32L515.98 111.5L516.4 114.55L516.82 112.59L517.24 112.77L517.66 116.2L518.08 114.74L518.5 117.22L518.92 114.53L519.34 114.29L519.76 116.43L520.18 115.16L520.6 115.22L521.02 115.64L521.44 114.77L521.86 114.81L522.28 115.09L522.7 113.74L523.12 114.15L523.54 113.23L523.96 113.55L524.38 116.45L524.8 116.54L525.22 115.54L525.64 113.5L526.06 111.67L526.48 113.51L526.9 117.04L527.32 112.33L527.74 114.38L528.16 113.61L528.58 117.62L529 113.75L529.42 115.49L529.84 116L530.26 115.36L530.68 114.68L531.1 114.38L531.52 113.68L531.94 116.07L532.36 114.39L532.78 115.1L533.2 117.29L533.62 114.81L534.04 114.97L534.46 115.01L534.88 110.79L535.3 108.35L535.72 109.81L536.14 108.76L536.56 107.44L536.98 109.31L537.4 106.55L537.82 111.36L538.24 108.17L538.66 108.24L539.08 107.83L539.5 109.47L539.92 107.94L540.34 106.89L540.76 110.63L541.18 106.97L541.6 111L542.02 107.89L542.44 104.38L542.86 106.05L543.28 105.6L543.7 108.87L544.12 111.02L544.54 111.05L544.96 106.5L545.38 107.65L545.8 109.39L546.22 107.39L546.64 109.88L547.06 107.46L547.48 108.94L547.9 109.62L548.32 109.87L548.74 107.09L549.16 108.96L549.58 107.23L550 108.15L550.42 105.98L550.84 104.04L551.26 103.78L551.68 102.07L552.1 101.6L552.52 102.96L552.94 104.88L553.36 103.51L553.78 101.34L554.2 102.69L554.62 100.14L555.04 99.75L555.46 101.71L555.88 101.27L556.3 101.23L556.72 100.13L557.14 100.51L557.56 102.42L557.98 102.32L558.4 100.13L558.82 102.91L559.24 102.2L559.66 101.03L560.08 100.81L560.18 219.5L569.4 209.5L569.7 179L570.5 158L571.3 160.5L572.2 166L573.2 158.5L574.2 166L575 176.5L575.6 199.5" stroke="#000" stroke-width="1.0" stroke-linejoin="round" fill="none"/>
</g>
<g clip-path="url(#c2)">
<path d="M41.9 338.2L41.3 309.55L41.72 309.55L42.14 309.55L42.56 315.47L42.98 315.47L43.4 315.47L43.82 315.47L44.24 315.47L44.66 315.47L45.08 309.55L45.5 309.55L45.92 309.55L46.34 309.55L46.76 315.47L47.18 315.47L47.6 315.47L48.02 315.47L48.44 315.47L48.86 315.47L49.28 315.47L49.7 309.55L50.12 309.55L50.54 309.55L50.96 309.55L51.38 309.55L51.8 309.55L52.22 309.55L52.64 309.55L53.06 315.47L53.48 315.47L53.9 315.47L54.32 303.64L54.74 303.64L55.16 303.64L55.58 309.55L56 309.55L56.42 309.55L56.84 315.47L57.26 309.55L57.68 309.55L58.1 309.55L58.52 309.55L58.94 315.47L59.36 303.64L59.78 309.55L60.2 303.64L60.62 309.55L61.04 309.55L61.46 315.47L61.88 315.47L62.3 303.64L62.72 303.64L63.14 309.55L63.56 309.55L63.98 309.55L64.4 309.55L64.82 315.47L65.24 309.55L65.66 309.55L66.08 309.55L66.5 303.64L66.92 315.47L67.34 309.55L67.76 309.55L68.18 309.55L68.6 315.47L69.02 315.47L69.44 315.47L69.86 315.47L70.28 315.47L70.7 315.47L71.12 309.55L71.54 309.55L71.96 309.55L72.38 309.55L72.8 303.64L73.22 303.64L73.64 309.55L74.06 309.55L74.48 309.55L74.9 309.55L75.32 309.55L75.74 309.55L76.16 309.55L76.58 303.64L77 303.64L77.42 303.64L77.84 303.64L78.26 303.64L78.68 303.64L79.1 303.64L79.52 303.64L79.94 303.64L80.36 303.64L80.78 303.64L81.2 303.64L81.62 303.64L82.04 303.64L82.46 303.64L82.88 303.64L83.3 303.64L83.72 303.64L84.14 303.64L84.56 303.64L84.98 303.64L85.4 303.64L85.82 303.64L86.24 303.64L86.66 303.64L87.08 303.64L87.5 303.64L87.92 303.64L88.34 303.64L88.76 303.64L89.18 303.64L89.6 303.64L90.02 303.64L90.44 297.73L90.86 303.64L91.28 303.64L91.7 303.64L92.12 309.55L92.54 309.55L92.96 303.64L93.38 303.64L93.8 303.64L94.22 303.64L94.64 303.64L95.06 303.64L95.48 303.64L95.9 303.64L96.32 303.64L96.74 303.64L97.16 303.64L97.58 303.64L98 303.64L98.42 303.64L98.84 303.64L99.26 303.64L99.68 297.73L100.1 297.73L100.52 297.73L100.94 297.73L101.36 297.73L101.78 291.82L102.2 297.73L102.62 291.82L103.04 291.82L103.46 297.73L103.88 297.73L104.3 291.82L104.72 291.82L105.14 297.73L105.56 297.73L105.98 291.82L106.4 291.82L106.82 297.73L107.24 291.82L107.66 291.82L108.08 297.73L108.5 291.82L108.92 297.73L109.34 297.73L109.76 291.82L110.18 297.73L110.6 297.73L111.02 297.73L111.44 297.73L111.86 291.82L112.28 297.73L112.7 297.73L113.12 291.82L113.54 297.73L113.96 291.82L114.38 291.82L114.8 297.73L115.22 297.73L115.64 297.73L116.06 297.73L116.48 291.82L116.9 291.82L117.32 285.91L117.74 291.82L118.16 285.91L118.58 291.82L119 285.91L119.42 291.82L119.84 285.91L120.26 285.91L120.68 285.91L121.1 285.91L121.52 291.82L121.94 285.91L122.36 291.82L122.78 285.91L123.2 291.82L123.62 285.91L124.04 291.82L124.46 285.91L124.88 315.47L125.3 309.55L125.72 303.64L126.14 309.55L126.56 303.64L126.98 309.55L127.4 309.55L127.82 309.55L128.24 303.64L128.66 303.64L129.08 309.55L129.5 303.64L129.92 303.64L130.34 309.55L130.76 303.64L131.18 309.55L131.6 303.64L132.02 303.64L132.44 309.55L132.86 303.64L133.28 303.64L133.7 309.55L134.12 303.64L134.54 303.64L134.96 309.55L135.38 309.55L135.8 309.55L136.22 309.55L136.64 303.64L137.06 303.64L137.48 303.64L137.9 309.55L138.32 303.64L138.74 309.55L139.16 303.64L139.58 303.64L140 309.55L140.42 303.64L140.84 303.64L141.26 303.64L141.68 309.55L142.1 309.55L142.52 309.55L142.94 303.64L143.36 309.55L143.78 309.55L144.2 303.64L144.62 309.55L145.04 309.55L145.46 303.64L145.88 303.64L146.3 309.55L146.72 303.64L147.14 315.47L147.56 303.64L147.98 309.55L148.4 303.64L148.82 309.55L149.24 309.55L149.66 309.55L150.08 309.55L150.5 303.64L150.92 303.64L151.34 309.55L151.76 309.55L152.18 303.64L152.6 309.55L153.02 309.55L153.44 309.55L153.86 309.55L154.28 303.64L154.7 303.64L155.12 309.55L155.54 303.64L155.96 309.55L156.38 309.55L156.8 303.64L157.22 303.64L157.64 303.64L158.06 303.64L158.48 297.73L158.9 303.64L159.32 297.73L159.74 303.64L160.16 297.73L160.58 297.73L161 303.64L161.42 297.73L161.84 303.64L162.26 297.73L162.68 297.73L163.1 297.73L163.52 297.73L163.94 303.64L164.36 303.64L164.78 303.64L165.2 303.64L165.62 297.73L166.04 303.64L166.46 297.73L166.88 297.73L167.3 303.64L167.72 303.64L168.14 297.73L168.56 297.73L168.98 297.73L169.4 297.73L169.82 303.64L170.24 303.64L170.66 303.64L171.08 303.64L171.5 303.64L171.92 303.64L172.34 297.73L172.76 297.73L173.18 297.73L173.6 297.73L174.02 297.73L174.44 297.73L174.86 297.73L175.28 303.64L175.7 297.73L176.12 297.73L176.54 297.73L176.96 297.73L177.38 297.73L177.8 303.64L178.22 297.73L178.64 303.64L179.06 297.73L179.48 297.73L179.9 297.73L180.32 303.64L180.74 303.64L181.16 303.64L181.58 297.73L182 297.73L182.42 297.73L182.84 297.73L183.26 297.73L183.68 297.73L184.1 297.73L184.52 297.73L184.94 297.73L185.36 291.82L185.78 291.82L186.2 297.73L186.62 297.73L187.04 291.82L187.46 297.73L187.88 291.82L188.3 291.82L188.72 297.73L189.14 297.73L189.56 297.73L189.98 297.73L190.4 291.82L190.82 291.82L191.24 297.73L191.66 297.73L192.08 291.82L192.5 291.82L192.92 291.82L193.34 291.82L193.76 297.73L194.18 297.73L194.6 291.82L195.02 291.82L195.44 291.82L195.86 291.82L196.28 297.73L196.7 291.82L197.12 297.73L197.54 297.73L197.96 297.73L198.38 291.82L198.8 297.73L199.22 297.73L199.64 297.73L200.06 285.91L200.48 291.82L200.9 291.82L201.32 291.82L201.74 291.82L202.16 285.91L202.58 285.91L203 291.82L203.42 291.82L203.84 285.91L204.26 291.82L204.68 291.82L205.1 291.82L205.52 291.82L205.94 291.82L206.36 291.82L206.78 285.91L207.2 291.82L207.62 285.91L208.04 285.91L208.46 291.82L208.88 291.82L216.5 291.82L216.6 338.2L216.7 309.55L217.12 309.55L217.54 303.64L217.96 309.55L218.38 309.55L218.8 309.55L219.22 309.55L219.64 309.55L220.06 309.55L220.48 303.64L220.9 303.64L221.32 303.64L221.74 303.64L222.16 303.64L222.58 303.64L223 309.55L223.42 309.55L223.84 309.55L224.26 309.55L224.68 309.55L225.1 309.55L225.52 309.55L225.94 309.55L226.36 303.64L226.78 303.64L227.2 303.64L227.62 303.64L228.04 303.64L228.46 309.55L228.88 309.55L229.3 303.64L229.72 309.55L230.14 309.55L230.56 303.64L230.98 303.64L231.4 303.64L231.82 309.55L232.24 309.55L232.66 309.55L233.08 303.64L233.5 309.55L233.92 309.55L234.34 303.64L234.76 303.64L235.18 309.55L235.6 309.55L236.02 309.55L236.44 309.55L236.86 309.55L237.28 309.55L237.7 303.64L238.12 309.55L238.54 309.55L238.96 309.55L239.38 309.55L239.8 309.55L240.22 309.55L240.64 309.55L241.06 309.55L241.48 309.55L241.9 309.55L242.32 309.55L242.74 309.55L243.16 309.55L243.58 309.55L244 309.55L244.42 309.55L244.84 309.55L245.26 309.55L245.68 303.64L246.1 309.55L246.52 309.55L246.94 309.55L247.36 309.55L247.78 309.55L248.2 309.55L248.62 309.55L249.04 303.64L249.46 303.64L249.88 297.73L250.3 303.64L250.72 297.73L251.14 303.64L251.56 303.64L251.98 297.73L252.4 303.64L252.82 303.64L253.24 297.73L253.66 297.73L254.08 303.64L254.5 297.73L254.92 303.64L255.34 303.64L255.76 303.64L256.18 303.64L256.6 297.73L257.02 303.64L257.44 303.64L257.86 303.64L258.28 297.73L258.7 303.64L259.12 303.64L259.54 297.73L259.96 303.64L260.38 303.64L260.8 303.64L261.22 297.73L261.64 303.64L262.06 303.64L262.48 297.73L262.9 297.73L263.32 297.73L263.74 297.73L264.16 297.73L264.58 303.64L265 297.73L265.42 297.73L265.84 297.73L266.26 303.64L266.68 303.64L267.1 297.73L267.52 297.73L267.94 297.73L268.36 303.64L268.78 303.64L269.2 303.64L269.62 303.64L270.04 297.73L270.46 297.73L270.88 297.73L271.3 297.73L271.72 297.73L272.14 303.64L272.56 297.73L272.98 303.64L273.4 303.64L273.82 303.64L274.24 297.73L274.66 297.73L275.08 303.64L275.5 297.73L275.92 291.82L276.34 291.82L276.76 297.73L277.18 297.73L277.6 297.73L278.02 291.82L278.44 291.82L278.86 291.82L279.28 291.82L279.7 291.82L280.12 303.64L280.54 297.73L280.96 291.82L281.38 297.73L281.8 297.73L282.22 297.73L282.64 291.82L283.06 297.73L283.48 291.82L283.9 297.73L284.32 291.82L284.74 297.73L285.16 291.82L285.58 291.82L286 291.82L286.42 291.82L286.84 297.73L287.26 297.73L287.68 291.82L288.1 291.82L288.52 297.73L288.94 291.82L289.36 297.73L289.78 291.82L290.2 291.82L290.62 291.82L291.04 291.82L291.46 297.73L291.88 291.82L292.3 285.91L292.72 285.91L293.14 285.91L293.56 285.91L293.98 285.91L294.4 291.82L294.82 285.91L295.24 285.91L295.66 291.82L296.08 291.82L296.5 291.82L296.92 291.82L297.34 291.82L297.76 285.91L298.18 291.82L298.6 291.82L299.02 285.91L299.44 285.91L299.86 291.82L300.28 285.91L300.7 291.82L301.12 303.64L301.54 309.55L301.96 303.64L302.38 303.64L302.8 309.55L303.22 303.64L303.64 303.64L304.06 303.64L304.48 303.64L304.9 309.55L305.32 303.64L305.74 303.64L306.16 303.64L306.58 303.64L307 309.55L307.42 303.64L307.84 309.55L308.26 309.55L308.68 309.55L309.1 315.47L309.52 303.64L309.94 309.55L310.36 309.55L310.78 303.64L311.2 309.55L311.62 303.64L312.04 303.64L312.46 303.64L312.88 303.64L313.3 303.64L313.72 309.55L314.14 309.55L314.56 309.55L314.98 309.55L315.4 309.55L315.82 303.64L316.24 303.64L316.66 303.64L317.08 303.64L317.5 303.64L317.92 303.64L318.34 303.64L318.76 309.55L319.18 303.64L319.6 309.55L320.02 309.55L320.44 309.55L320.86 309.55L321.28 315.47L321.7 303.64L322.12 309.55L322.54 303.64L322.96 303.64L323.38 303.64L323.8 309.55L324.22 309.55L324.64 303.64L325.06 309.55L325.48 303.64L325.9 303.64L326.32 303.64L326.74 309.55L327.16 309.55L327.58 309.55L328 309.55L328.42 309.55L328.84 309.55L329.26 303.64L329.68 303.64L330.1 303.64L330.52 303.64L330.94 303.64L331.36 309.55L331.78 303.64L332.2 303.64L332.62 303.64L333.04 303.64L333.46 303.64L333.88 297.73L334.3 297.73L334.72 297.73L335.14 297.73L335.56 303.64L335.98 303.64L336.4 297.73L336.82 297.73L337.24 303.64L337.66 297.73L338.08 303.64L338.5 297.73L338.92 297.73L339.34 303.64L339.76 297.73L340.18 297.73L340.6 303.64L341.02 303.64L341.44 303.64L341.86 297.73L342.28 303.64L342.7 303.64L343.12 303.64L343.54 303.64L343.96 297.73L344.38 303.64L344.8 303.64L345.22 303.64L345.64 303.64L346.06 297.73L346.48 297.73L346.9 297.73L347.32 303.64L347.74 303.64L348.16 303.64L348.58 297.73L349 303.64L349.42 297.73L349.84 303.64L350.26 303.64L350.68 303.64L351.1 303.64L351.52 303.64L351.94 303.64L352.36 303.64L352.78 303.64L353.2 297.73L353.62 303.64L354.04 303.64L354.46 303.64L354.88 303.64L355.3 303.64L355.72 303.64L356.14 303.64L356.56 297.73L356.98 303.64L357.4 303.64L357.82 303.64L358.24 303.64L358.66 303.64L359.08 297.73L359.5 303.64L359.92 303.64L360.34 303.64L360.76 297.73L361.18 297.73L361.6 297.73L362.02 291.82L362.44 291.82L362.86 291.82L363.28 297.73L363.7 291.82L364.12 291.82L364.54 291.82L364.96 291.82L365.38 297.73L365.8 297.73L366.22 297.73L366.64 297.73L367.06 297.73L367.48 297.73L367.9 297.73L368.32 297.73L368.74 291.82L369.16 291.82L369.58 291.82L370 291.82L370.42 297.73L370.84 297.73L371.26 297.73L371.68 291.82L372.1 291.82L372.52 291.82L372.94 297.73L373.36 297.73L373.78 297.73L374.2 297.73L374.62 297.73L375.04 297.73L375.46 297.73L375.88 285.91L376.3 291.82L376.72 291.82L377.14 291.82L377.56 285.91L377.98 285.91L378.4 285.91L378.82 285.91L379.24 291.82L379.66 285.91L380.08 291.82L380.5 285.91L380.92 285.91L381.34 285.91L381.76 291.82L382.18 291.82L382.6 291.82L383.02 285.91L383.44 285.91L383.86 285.91L384.28 285.91L384.7 285.91L392.3 285.91L392.4 338.2L392.5 309.55L392.92 303.64L393.34 309.55L393.76 309.55L394.18 309.55L394.6 309.55L395.02 309.55L395.44 309.55L395.86 309.55L396.28 309.55L396.7 309.55L397.12 309.55L397.54 309.55L397.96 309.55L398.38 309.55L398.8 309.55L399.22 309.55L399.64 309.55L400.06 309.55L400.48 309.55L400.9 309.55L401.32 309.55L401.74 309.55L402.16 309.55L402.58 303.64L403 303.64L403.42 309.55L403.84 309.55L404.26 303.64L404.68 303.64L405.1 309.55L405.52 309.55L405.94 303.64L406.36 309.55L406.78 303.64L407.2 309.55L407.62 309.55L408.04 309.55L408.46 303.64L408.88 309.55L409.3 309.55L409.72 303.64L410.14 309.55L410.56 309.55L410.98 309.55L411.4 315.47L411.82 315.47L412.24 309.55L412.66 309.55L413.08 303.64L413.5 309.55L413.92 309.55L414.34 303.64L414.76 303.64L415.18 303.64L415.6 303.64L416.02 309.55L416.44 309.55L416.86 309.55L417.28 309.55L417.7 309.55L418.12 309.55L418.54 309.55L418.96 309.55L419.38 309.55L419.8 309.55L420.22 309.55L420.64 309.55L421.06 309.55L421.48 309.55L421.9 309.55L422.32 309.55L422.74 309.55L423.16 309.55L423.58 309.55L424 303.64L424.42 303.64L424.84 309.55L425.26 309.55L425.68 309.55L426.1 303.64L426.52 303.64L426.94 303.64L427.36 303.64L427.78 303.64L428.2 303.64L428.62 303.64L429.04 303.64L429.46 303.64L429.88 303.64L430.3 303.64L430.72 303.64L431.14 303.64L431.56 297.73L431.98 303.64L432.4 303.64L432.82 297.73L433.24 297.73L433.66 303.64L434.08 303.64L434.5 297.73L434.92 303.64L435.34 303.64L435.76 297.73L436.18 297.73L436.6 303.64L437.02 297.73L437.44 297.73L437.86 303.64L438.28 297.73L438.7 303.64L439.12 297.73L439.54 303.64L439.96 297.73L440.38 303.64L440.8 297.73L441.22 303.64L441.64 297.73L442.06 297.73L442.48 303.64L442.9 303.64L443.32 297.73L443.74 297.73L444.16 303.64L444.58 303.64L445 297.73L445.42 297.73L445.84 297.73L446.26 297.73L446.68 297.73L447.1 303.64L447.52 303.64L447.94 303.64L448.36 297.73L448.78 297.73L449.2 297.73L449.62 297.73L450.04 297.73L450.46 297.73L450.88 303.64L451.3 303.64L451.72 297.73L452.14 291.82L452.56 297.73L452.98 291.82L453.4 291.82L453.82 291.82L454.24 291.82L454.66 291.82L455.08 297.73L455.5 291.82L455.92 291.82L456.34 291.82L456.76 291.82L457.18 297.73L457.6 291.82L458.02 297.73L458.44 291.82L458.86 291.82L459.28 297.73L459.7 297.73L460.12 291.82L460.54 297.73L460.96 297.73L461.38 297.73L461.8 297.73L462.22 297.73L462.64 291.82L463.06 297.73L463.48 291.82L463.9 291.82L464.32 291.82L464.74 291.82L465.16 291.82L465.58 291.82L466 297.73L466.42 291.82L466.84 297.73L467.26 297.73L467.68 291.82L468.1 291.82L468.52 285.91L468.94 291.82L469.36 291.82L469.78 285.91L470.2 291.82L470.62 285.91L471.04 285.91L471.46 285.91L471.88 291.82L472.3 285.91L472.72 285.91L473.14 291.82L473.56 291.82L473.98 291.82L474.4 291.82L474.82 291.82L475.24 285.91L475.66 285.91L476.08 291.82L476.5 285.91L476.92 285.91L477.34 309.55L477.76 309.55L478.18 303.64L478.6 309.55L479.02 303.64L479.44 309.55L479.86 303.64L480.28 303.64L480.7 309.55L481.12 309.55L481.54 303.64L481.96 309.55L482.38 309.55L482.8 303.64L483.22 303.64L483.64 303.64L484.06 303.64L484.48 309.55L484.9 303.64L485.32 309.55L485.74 303.64L486.16 309.55L486.58 303.64L487 303.64L487.42 309.55L487.84 309.55L488.26 303.64L488.68 309.55L489.1 309.55L489.52 303.64L489.94 303.64L490.36 309.55L490.78 303.64L491.2 309.55L491.62 309.55L492.04 303.64L492.46 309.55L492.88 309.55L493.3 303.64L493.72 309.55L494.14 303.64L494.56 303.64L494.98 303.64L495.4 303.64L495.82 303.64L496.24 309.55L496.66 309.55L497.08 303.64L497.5 309.55L497.92 309.55L498.34 303.64L498.76 303.64L499.18 309.55L499.6 303.64L500.02 303.64L500.44 303.64L500.86 303.64L501.28 309.55L501.7 309.55L502.12 309.55L502.54 303.64L502.96 309.55L503.38 309.55L503.8 309.55L504.22 303.64L504.64 303.64L505.06 303.64L505.48 309.55L505.9 309.55L506.32 309.55L506.74 309.55L507.16 309.55L507.58 309.55L508 303.64L508.42 309.55L508.84 303.64L509.26 303.64L509.68 309.55L510.1 303.64L510.52 303.64L510.94 297.73L511.36 303.64L511.78 303.64L512.2 297.73L512.62 303.64L513.04 297.73L513.46 303.64L513.88 297.73L514.3 303.64L514.72 303.64L515.14 297.73L515.56 297.73L515.98 303.64L516.4 303.64L516.82 297.73L517.24 297.73L517.66 297.73L518.08 303.64L518.5 303.64L518.92 297.73L519.34 297.73L519.76 303.64L520.18 297.73L520.6 297.73L521.02 303.64L521.44 297.73L521.86 303.64L522.28 297.73L522.7 297.73L523.12 303.64L523.54 303.64L523.96 303.64L524.38 297.73L524.8 303.64L525.22 297.73L525.64 303.64L526.06 303.64L526.48 297.73L526.9 303.64L527.32 303.64L527.74 297.73L528.16 297.73L528.58 297.73L529 297.73L529.42 303.64L529.84 297.73L530.26 303.64L530.68 297.73L531.1 297.73L531.52 303.64L531.94 303.64L532.36 297.73L532.78 303.64L533.2 297.73L533.62 297.73L534.04 303.64L534.46 303.64L534.88 303.64L535.3 303.64L535.72 297.73L536.14 297.73L536.56 297.73L536.98 291.82L537.4 297.73L537.82 291.82L538.24 297.73L538.66 297.73L539.08 297.73L539.5 297.73L539.92 297.73L540.34 297.73L540.76 297.73L541.18 297.73L541.6 297.73L542.02 297.73L542.44 297.73L542.86 297.73L543.28 297.73L543.7 291.82L544.12 291.82L544.54 291.82L544.96 291.82L545.38 297.73L545.8 297.73L546.22 297.73L546.64 291.82L547.06 297.73L547.48 297.73L547.9 291.82L548.32 297.73L548.74 297.73L549.16 291.82L549.58 297.73L550 297.73L550.42 297.73L550.84 285.91L551.26 285.91L551.68 291.82L552.1 285.91L552.52 285.91L552.94 291.82L553.36 285.91L553.78 285.91L554.2 285.91L554.62 285.91L555.04 291.82L555.46 285.91L555.88 291.82L556.3 291.82L556.72 291.82L557.14 291.82L557.56 285.91L557.98 291.82L558.4 291.82L558.82 291.82L559.24 291.82L559.66 291.82L560.08 291.82L568.1 291.82L568.2 338.2L568.5 238.62L569.4 241.57L570.3 260.49L571.2 250.44L572.6 251.62L573.3 257.53L574.2 250.44L575.2 262.26L576 253.39" stroke="#0000ff" stroke-width="1.0" stroke-linejoin="round" fill="none"/>
</g>
<g clip-path="url(#c3)">
<path d="M41.9 491.3L41.3 458.55L41.72 458.56L42.14 459.25L42.56 460.14L42.98 461.13L43.4 460.49L43.82 458.45L44.24 459.84L44.66 458.47L45.08 457.92L45.5 459.5L45.92 458.81L46.34 457.65L46.76 458.06L47.18 458.03L47.6 458.77L48.02 458.79L48.44 459.36L48.86 459.94L49.28 459.11L49.7 459.08L50.12 458.81L50.54 457.57L50.96 458.95L51.38 457.69L51.8 458.38L52.22 458.39L52.64 457.85L53.06 459.1L53.48 458.65L53.9 459.22L54.32 459.61L54.74 458.92L55.16 457.76L55.58 460.13L56 458.59L56.42 458.42L56.84 458.49L57.26 458.97L57.68 458.45L58.1 457.2L58.52 457.36L58.94 456.71L59.36 458.23L59.78 459.21L60.2 458.37L60.62 458.75L61.04 459.26L61.46 458.24L61.88 458.15L62.3 457.37L62.72 457.92L63.14 457.3L63.56 457.24L63.98 457.1L64.4 457.22L64.82 456.48L65.24 456.55L65.66 457.29L66.08 458.19L66.5 458.03L66.92 458.2L67.34 458.07L67.76 458.28L68.18 458.34L68.6 458.17L69.02 458.29L69.44 459.22L69.86 459.86L70.28 459.99L70.7 459.25L71.12 458.55L71.54 459.09L71.96 459.33L72.38 459.27L72.8 459.26L73.22 456.94L73.64 457.56L74.06 456.79L74.48 453.95L74.9 454.38L75.32 453.29L75.74 453.46L76.16 453.89L76.58 453.95L77 454.04L77.42 454.41L77.84 455.72L78.26 455.37L78.68 456.64L79.1 454.35L79.52 454.11L79.94 455.29L80.36 455.48L80.78 454.05L81.2 455.08L81.62 455.64L82.04 456.64L82.46 455.36L82.88 454.17L83.3 454.93L83.72 456.12L84.14 455.22L84.56 457.52L84.98 457.23L85.4 456.28L85.82 456.21L86.24 455.25L86.66 454.29L87.08 455.05L87.5 455.89L87.92 456.8L88.34 455.41L88.76 455.05L89.18 455.8L89.6 454.64L90.02 455.73L90.44 454.94L90.86 455.17L91.28 456.4L91.7 456.36L92.12 457.85L92.54 457.66L92.96 457.77L93.38 456.13L93.8 457.64L94.22 456.21L94.64 456.22L95.06 455.73L95.48 455.61L95.9 454.74L96.32 453.1L96.74 453.56L97.16 454.3L97.58 454.87L98 453.96L98.42 452.58L98.84 453.43L99.26 453.21L99.68 453.02L100.1 451.23L100.52 452.89L100.94 452.65L101.36 452.56L101.78 451.89L102.2 451.31L102.62 452.23L103.04 452.24L103.46 451.24L103.88 451.35L104.3 450.73L104.72 451.12L105.14 451.86L105.56 452.21L105.98 452.31L106.4 451.93L106.82 450.09L107.24 450.84L107.66 450.9L108.08 452.86L108.5 452.47L108.92 449.75L109.34 450.34L109.76 450.93L110.18 451.42L110.6 449.37L111.02 449.33L111.44 450.72L111.86 452.01L112.28 452.04L112.7 452.33L113.12 451.75L113.54 451L113.96 452.55L114.38 451.27L114.8 451.46L115.22 448.51L115.64 451.42L116.06 448.42L116.48 447.14L116.9 447.57L117.32 447.96L117.74 448.83L118.16 447.07L118.58 447.29L119 447.47L119.42 446.8L119.84 446.92L120.26 447.02L120.68 445.81L121.1 446.54L121.52 446.76L121.94 447.11L122.36 446.54L122.78 445.98L123.2 444.85L123.62 445.17L124.04 446.38L124.46 447.24L124.88 452.08L125.3 453.6L125.72 452.51L126.14 452.76L126.56 455.17L126.98 455.84L127.4 456.12L127.82 456.52L128.24 455.98L128.66 455.8L129.08 456.63L129.5 457.32L129.92 458.36L130.34 459.13L130.76 459.36L131.18 457.79L131.6 458.95L132.02 458.55L132.44 458.85L132.86 458.95L133.28 459.22L133.7 459.13L134.12 458.85L134.54 459L134.96 458.82L135.38 459.87L135.8 460.09L136.22 461.1L136.64 461.02L137.06 459.82L137.48 461.18L137.9 458.83L138.32 458.17L138.74 458.19L139.16 458.43L139.58 459.36L140 459.63L140.42 458.75L140.84 458.91L141.26 460.28L141.68 459.73L142.1 458.78L142.52 458.26L142.94 458.44L143.36 458.69L143.78 459.3L144.2 458.09L144.62 460.63L145.04 460.13L145.46 459.53L145.88 460.13L146.3 459.69L146.72 460.08L147.14 459.33L147.56 461.38L147.98 460.8L148.4 460.91L148.82 460.22L149.24 459.62L149.66 457.3L150.08 458.73L150.5 459.63L150.92 459.3L151.34 458.77L151.76 458.41L152.18 459.61L152.6 458.02L153.02 458.36L153.44 457.53L153.86 457.88L154.28 459L154.7 458.69L155.12 460.28L155.54 460.35L155.96 459.28L156.38 459.14L156.8 458.95L157.22 459.08L157.64 458.39L158.06 454.94L158.48 454.4L158.9 456.15L159.32 454.78L159.74 455.38L160.16 455.34L160.58 453.63L161 454.3L161.42 453.88L161.84 453.99L162.26 454.95L162.68 454.4L163.1 454.83L163.52 455.26L163.94 454.67L164.36 454.43L164.78 455.84L165.2 453.7L165.62 452.09L166.04 450.62L166.46 451.23L166.88 449.54L167.3 449.24L167.72 449.66L168.14 449.16L168.56 449.69L168.98 449.39L169.4 450.2L169.82 450.62L170.24 451.69L170.66 452.84L171.08 452.27L171.5 450.38L171.92 450.31L172.34 450.32L172.76 450.95L173.18 452.23L173.6 451.17L174.02 453.43L174.44 452.22L174.86 453.67L175.28 452.82L175.7 454.3L176.12 454.74L176.54 454.8L176.96 455.71L177.38 455.61L177.8 455.48L178.22 456.97L178.64 455.32L179.06 455.61L179.48 455.15L179.9 454.99L180.32 456.8L180.74 455.24L181.16 453.89L181.58 452.76L182 452.32L182.42 452.37L182.84 453.53L183.26 452.31L183.68 448.93L184.1 450.14L184.52 449.89L184.94 448.06L185.36 449.25L185.78 448.52L186.2 449.59L186.62 449.7L187.04 451.52L187.46 448.65L187.88 448.75L188.3 448.83L188.72 447.01L189.14 449.29L189.56 448.47L189.98 448.46L190.4 448.1L190.82 448.94L191.24 450.75L191.66 450.73L192.08 451.24L192.5 449.88L192.92 449.4L193.34 450.22L193.76 450.8L194.18 450.59L194.6 451.21L195.02 452.88L195.44 452.14L195.86 451.29L196.28 449.87L196.7 449.11L197.12 449.72L197.54 451.31L197.96 451.81L198.38 451.82L198.8 449.74L199.22 448.59L199.64 447.46L200.06 446.51L200.48 447.38L200.9 449.3L201.32 449.03L201.74 447.01L202.16 446.74L202.58 447.71L203 445.79L203.42 446.79L203.84 446.42L204.26 446.29L204.68 448.03L205.1 447.34L205.52 447.2L205.94 444.96L206.36 445.01L206.78 446.81L207.2 446.13L207.62 447.62L208.04 445.5L208.46 445.66L208.88 446.87L209.28 447.83L216.4 447.83L216.6 470.22L216.7 456.54L217.12 455.49L217.54 456.83L217.96 457.23L218.38 457.75L218.8 457.1L219.22 459.04L219.64 459.41L220.06 460.14L220.48 459.9L220.9 459.14L221.32 459.73L221.74 460.47L222.16 460.19L222.58 460.04L223 459.69L223.42 458.52L223.84 459.36L224.26 458.43L224.68 459.03L225.1 459.27L225.52 460.12L225.94 462.55L226.36 462.32L226.78 462.83L227.2 461.52L227.62 460.35L228.04 458.49L228.46 458.28L228.88 456.8L229.3 457.01L229.72 458.79L230.14 457.8L230.56 457.88L230.98 457.44L231.4 456.51L231.82 457.25L232.24 457.67L232.66 458.92L233.08 458.92L233.5 458.22L233.92 459.89L234.34 459.03L234.76 459.92L235.18 459.68L235.6 459.78L236.02 459.4L236.44 459.89L236.86 457.28L237.28 458.06L237.7 458.72L238.12 457.09L238.54 458.64L238.96 459.94L239.38 458.29L239.8 458.12L240.22 457.42L240.64 458.74L241.06 457.42L241.48 457.28L241.9 456.92L242.32 457.3L242.74 458.41L243.16 458.62L243.58 458.73L244 458.23L244.42 457.85L244.84 457.58L245.26 455.93L245.68 458.96L246.1 459.35L246.52 458.62L246.94 458.18L247.36 459.3L247.78 458.92L248.2 460.3L248.62 457.66L249.04 456.82L249.46 452.37L249.88 452.62L250.3 452.68L250.72 453.32L251.14 452.39L251.56 452.62L251.98 451.96L252.4 454.61L252.82 455.53L253.24 455.4L253.66 453.79L254.08 454.95L254.5 454.57L254.92 453.17L255.34 453.98L255.76 454.71L256.18 451.7L256.6 452.09L257.02 452.85L257.44 452.28L257.86 452.73L258.28 453.05L258.7 453.16L259.12 453.04L259.54 451.14L259.96 453.92L260.38 454.67L260.8 454.57L261.22 454.73L261.64 454.01L262.06 453.98L262.48 455.16L262.9 454.58L263.32 455.07L263.74 454.76L264.16 455.26L264.58 455.12L265 455.58L265.42 454.96L265.84 454.64L266.26 454.6L266.68 456.01L267.1 455.07L267.52 455.95L267.94 455.76L268.36 456.61L268.78 456.82L269.2 456.76L269.62 455.68L270.04 454.49L270.46 454.25L270.88 455.35L271.3 455.52L271.72 455.11L272.14 454.67L272.56 455.42L272.98 455.79L273.4 453.4L273.82 455.09L274.24 453.99L274.66 454.61L275.08 451.1L275.5 449.64L275.92 449.29L276.34 450.25L276.76 449.74L277.18 450.99L277.6 452.01L278.02 451.06L278.44 449.37L278.86 450.41L279.28 452.05L279.7 451.03L280.12 451.1L280.54 450.41L280.96 451.35L281.38 453.49L281.8 450.17L282.22 451.17L282.64 450.58L283.06 450.41L283.48 449.81L283.9 450.57L284.32 451.36L284.74 450.64L285.16 450.17L285.58 449.78L286 449.88L286.42 451.46L286.84 451.4L287.26 450.38L287.68 450.64L288.1 452.09L288.52 452.22L288.94 452.63L289.36 452.33L289.78 450.59L290.2 449.4L290.62 448.14L291.04 450.69L291.46 449.99L291.88 448.03L292.3 446.12L292.72 446L293.14 446.92L293.56 446.64L293.98 445.55L294.4 446.27L294.82 446.06L295.24 447.01L295.66 447.69L296.08 447.54L296.5 447.57L296.92 448.34L297.34 446.53L297.76 446.04L298.18 445.73L298.6 446.95L299.02 448L299.44 446.41L299.86 446.82L300.28 446.33L300.7 446.78L301.12 454.7L301.54 458.07L301.96 458.08L302.38 459.78L302.8 460.81L303.22 460.91L303.64 459.74L304.06 460.25L304.48 460.29L304.9 459.33L305.32 459.28L305.74 459.85L306.16 460.46L306.58 461.84L307 459.65L307.42 458.65L307.84 457.52L308.26 457.79L308.68 457.3L309.1 457.6L309.52 457.88L309.94 458.75L310.36 458.57L310.78 459.56L311.2 458.22L311.62 458.68L312.04 456.53L312.46 457.61L312.88 458.1L313.3 458.3L313.72 458.87L314.14 459.23L314.56 459.31L314.98 459.6L315.4 459.24L315.82 459.48L316.24 458.34L316.66 458.25L317.08 457.97L317.5 456.74L317.92 456.37L318.34 458.71L318.76 458.47L319.18 457.8L319.6 457.67L320.02 457.2L320.44 458.37L320.86 459.75L321.28 458.94L321.7 459.77L322.12 460.02L322.54 459.9L322.96 457.63L323.38 458.74L323.8 458.64L324.22 459.4L324.64 460.26L325.06 458.96L325.48 459.16L325.9 458.77L326.32 457.78L326.74 458.03L327.16 458.24L327.58 457.93L328 459.95L328.42 459.94L328.84 460.16L329.26 461.19L329.68 461.96L330.1 460.51L330.52 459.55L330.94 460.88L331.36 461.44L331.78 460.79L332.2 461.09L332.62 459.47L333.04 458.16L333.46 455.02L333.88 454.09L334.3 454.1L334.72 454.6L335.14 453.82L335.56 452.91L335.98 455L336.4 455L336.82 454.33L337.24 454.6L337.66 453.96L338.08 454.68L338.5 455.27L338.92 454.31L339.34 454.64L339.76 452.2L340.18 451.85L340.6 452.64L341.02 453.48L341.44 455.5L341.86 454.1L342.28 454.45L342.7 454.03L343.12 454.14L343.54 455.15L343.96 454.98L344.38 454.16L344.8 454.56L345.22 454.13L345.64 454.18L346.06 454.87L346.48 455.02L346.9 455.56L347.32 456.05L347.74 456.57L348.16 454.9L348.58 454.31L349 455.06L349.42 453.86L349.84 454.46L350.26 455.37L350.68 454.84L351.1 454.25L351.52 453.97L351.94 453.12L352.36 452.44L352.78 452.56L353.2 454.05L353.62 455.41L354.04 456.33L354.46 455.25L354.88 453.67L355.3 454.65L355.72 456.3L356.14 455.14L356.56 455.78L356.98 454.49L357.4 456.51L357.82 455.12L358.24 454.27L358.66 454.89L359.08 453.8L359.5 453.58L359.92 451.96L360.34 454.01L360.76 454.47L361.18 453.96L361.6 452.77L362.02 452.4L362.44 453.27L362.86 453.75L363.28 452.83L363.7 453.8L364.12 453.7L364.54 450.97L364.96 450.44L365.38 452.45L365.8 452.62L366.22 452.8L366.64 451.96L367.06 453.25L367.48 452.72L367.9 451.52L368.32 452.26L368.74 451.07L369.16 452.71L369.58 451.18L370 451.46L370.42 451.56L370.84 450.76L371.26 450.86L371.68 452.9L372.1 453.31L372.52 449.89L372.94 449.17L373.36 451.6L373.78 451.34L374.2 451.68L374.62 452.06L375.04 451.33L375.46 448.21L375.88 448.99L376.3 448.65L376.72 445.78L377.14 446.55L377.56 448.47L377.98 449.55L378.4 448.05L378.82 445.39L379.24 444.96L379.66 447.09L380.08 448.57L380.5 448.99L380.92 447.64L381.34 446.12L381.76 447.44L382.18 447.48L382.6 447.3L383.02 449.65L383.44 450.69L383.86 448.57L384.28 446.47L384.7 447.32L385.1 447.83L392.2 447.83L392.4 480.18L392.5 455.44L392.92 455.87L393.34 456.08L393.76 457.61L394.18 458.75L394.6 459.52L395.02 460.48L395.44 460.36L395.86 459.59L396.28 459.3L396.7 458.07L397.12 459.09L397.54 459.49L397.96 458.12L398.38 458.94L398.8 458.16L399.22 458.47L399.64 457.67L400.06 458.22L400.48 457.72L400.9 458.15L401.32 457.92L401.74 457.68L402.16 458.46L402.58 458.88L403 456.41L403.42 454.06L403.84 457.19L404.26 457.55L404.68 456.95L405.1 458.16L405.52 457.02L405.94 456.63L406.36 458.43L406.78 456.86L407.2 457.28L407.62 458.65L408.04 458.22L408.46 458.14L408.88 459.39L409.3 460.04L409.72 458.5L410.14 460.42L410.56 461L410.98 459.01L411.4 459.25L411.82 459.61L412.24 458.18L412.66 458.94L413.08 458.87L413.5 459.48L413.92 461.08L414.34 460.77L414.76 459.59L415.18 460.04L415.6 460.34L416.02 460.91L416.44 458.52L416.86 458.26L417.28 458.79L417.7 457.93L418.12 458.76L418.54 458.19L418.96 459.03L419.38 458.98L419.8 460.13L420.22 459.96L420.64 459.95L421.06 458.39L421.48 459.56L421.9 462.11L422.32 459.72L422.74 460.08L423.16 460.32L423.58 459.76L424 460.51L424.42 461.04L424.84 461.51L425.26 459.07L425.68 456.04L426.1 453.89L426.52 453.74L426.94 454.27L427.36 453.77L427.78 454.02L428.2 454.74L428.62 454.28L429.04 453.65L429.46 453.84L429.88 455.01L430.3 455.6L430.72 456.7L431.14 454.05L431.56 454.12L431.98 453.54L432.4 454.29L432.82 456L433.24 452.75L433.66 452.71L434.08 454.81L434.5 455.25L434.92 454.82L435.34 455.96L435.76 454.82L436.18 455.68L436.6 454.98L437.02 453.2L437.44 454.84L437.86 455.74L438.28 454.96L438.7 455.56L439.12 456.82L439.54 455.9L439.96 456.5L440.38 455.56L440.8 454.53L441.22 454.67L441.64 454.22L442.06 454.91L442.48 454.44L442.9 455.24L443.32 455.44L443.74 454.38L444.16 454.02L444.58 454.16L445 455.08L445.42 454.9L445.84 455.81L446.26 455.78L446.68 454.92L447.1 453.63L447.52 455.74L447.94 456.23L448.36 455.75L448.78 455.41L449.2 455.12L449.62 455.24L450.04 455.04L450.46 453.97L450.88 452.35L451.3 450.29L451.72 449.9L452.14 449.95L452.56 451.02L452.98 449.55L453.4 451.16L453.82 450.38L454.24 451.62L454.66 452.32L455.08 451.25L455.5 452.02L455.92 451.21L456.34 450.21L456.76 451.72L457.18 450.95L457.6 452.2L458.02 452.5L458.44 451.89L458.86 453.98L459.28 452.58L459.7 452.89L460.12 452.01L460.54 451.13L460.96 451.62L461.38 451.81L461.8 451.69L462.22 453.13L462.64 452.4L463.06 450.58L463.48 452.26L463.9 451.77L464.32 451.9L464.74 450.6L465.16 451.6L465.58 451.9L466 450.51L466.42 451.1L466.84 452.1L467.26 449.88L467.68 449.81L468.1 450.3L468.52 449.84L468.94 449.68L469.36 449.32L469.78 448.64L470.2 447.24L470.62 447.3L471.04 445.47L471.46 445.81L471.88 445.67L472.3 444.03L472.72 445.15L473.14 444.09L473.56 445.98L473.98 447.56L474.4 448.14L474.82 448.42L475.24 448.16L475.66 446.5L476.08 446.08L476.5 445.31L476.92 450.02L477.34 451.47L477.76 454.04L478.18 457.45L478.6 460.27L479.02 460.03L479.44 458.99L479.86 459.08L480.28 459.39L480.7 460.13L481.12 457.97L481.54 458.48L481.96 460.79L482.38 461.29L482.8 460.58L483.22 460.48L483.64 459.55L484.06 459.92L484.48 459.52L484.9 459.55L485.32 460.65L485.74 459.36L486.16 458.9L486.58 458.84L487 459.4L487.42 460.19L487.84 460.33L488.26 460.14L488.68 459.35L489.1 458.12L489.52 459.65L489.94 459.54L490.36 460.39L490.78 459.42L491.2 460.33L491.62 459.62L492.04 460.36L492.46 459.34L492.88 460.04L493.3 459.08L493.72 458.57L494.14 457.79L494.56 459.22L494.98 458.87L495.4 459.81L495.82 458.24L496.24 456.3L496.66 459.11L497.08 460.27L497.5 459.98L497.92 459.07L498.34 461.07L498.76 459.78L499.18 458.74L499.6 459.32L500.02 457.97L500.44 458.78L500.86 459.45L501.28 458.84L501.7 459.23L502.12 458.32L502.54 459.06L502.96 460.68L503.38 459.1L503.8 460.03L504.22 459.95L504.64 459.39L505.06 457.78L505.48 459.11L505.9 460.09L506.32 458.9L506.74 459.01L507.16 460.18L507.58 460.61L508 460.03L508.42 460.31L508.84 458.9L509.26 458.14L509.68 457.62L510.1 456.47L510.52 457.26L510.94 456.41L511.36 455.63L511.78 454.97L512.2 453.18L512.62 453.71L513.04 454.02L513.46 453.59L513.88 454.48L514.3 454.99L514.72 454.29L515.14 455.45L515.56 454.27L515.98 454.73L516.4 454.52L516.82 454.04L517.24 454.18L517.66 455.61L518.08 455.02L518.5 454.64L518.92 455.26L519.34 453.41L519.76 454.74L520.18 454.74L520.6 454.83L521.02 456.14L521.44 456.62L521.86 456.69L522.28 456.58L522.7 456.95L523.12 457.05L523.54 455.68L523.96 453.77L524.38 454.49L524.8 455L525.22 454.06L525.64 453.64L526.06 454.81L526.48 454.89L526.9 454.98L527.32 454.08L527.74 455.92L528.16 455.24L528.58 455.71L529 455.92L529.42 455.82L529.84 457.12L530.26 455.9L530.68 454.24L531.1 454.06L531.52 455.48L531.94 454.61L532.36 455.64L532.78 455.19L533.2 454.75L533.62 454.06L534.04 454.33L534.46 454.42L534.88 451.7L535.3 450.74L535.72 450.88L536.14 450.11L536.56 451.78L536.98 451.03L537.4 450.44L537.82 451.13L538.24 450.71L538.66 451.7L539.08 451.89L539.5 452.71L539.92 452.25L540.34 450.59L540.76 450.6L541.18 450.88L541.6 451.85L542.02 450.96L542.44 450.93L542.86 449.94L543.28 447.86L543.7 450.25L544.12 451.22L544.54 451.45L544.96 451.77L545.38 452.76L545.8 452.39L546.22 453.02L546.64 451.53L547.06 450.36L547.48 450.41L547.9 450.37L548.32 450.87L548.74 450.65L549.16 451.85L549.58 451.37L550 450.6L550.42 449.88L550.84 449.61L551.26 448.89L551.68 447.31L552.1 447.53L552.52 447.56L552.94 448.45L553.36 446.98L553.78 445.09L554.2 448.04L554.62 446.6L555.04 446.27L555.46 445.27L555.88 444.64L556.3 444.76L556.72 444.55L557.14 443.98L557.56 444.44L557.98 445.27L558.4 446.2L558.82 447.49L559.24 445.69L559.66 447.72L560.08 448.45L560.9 446.88L567.9 446.88L568.2 491.3L569.8 489.3L570.3 476.73L571.2 479.41L572 484.77L572.8 478.64L573.6 485.92L574.6 479.41L575.4 477.88L576.2 470.22" stroke="#0000ff" stroke-width="0.95" stroke-linejoin="round" fill="none"/>
</g>
<rect x="41" y="26.75" width="535.35" height="152.75" fill="none" stroke="#1c1c1c" stroke-width="1.05"/>
<rect x="41" y="179.5" width="535.35" height="153.7" fill="none" stroke="#1c1c1c" stroke-width="1.05"/>
<rect x="41" y="333.2" width="535.35" height="153.1" fill="none" stroke="#1c1c1c" stroke-width="1.05"/>
<path d="M82.83 179.5v-2.1M82.83 26.75v2.1M124.66 179.5v-2.1M124.66 26.75v2.1M166.49 179.5v-2.1M166.49 26.75v2.1M208.32 179.5v-2.1M208.32 26.75v2.1M250.15 179.5v-2.1M250.15 26.75v2.1M291.98 179.5v-2.1M291.98 26.75v2.1M333.81 179.5v-2.1M333.81 26.75v2.1M375.64 179.5v-2.1M375.64 26.75v2.1M417.47 179.5v-2.1M417.47 26.75v2.1M459.3 179.5v-2.1M459.3 26.75v2.1M501.13 179.5v-2.1M501.13 26.75v2.1M542.96 179.5v-2.1M542.96 26.75v2.1M82.83 333.2v-2.1M82.83 179.5v2.1M124.66 333.2v-2.1M124.66 179.5v2.1M166.49 333.2v-2.1M166.49 179.5v2.1M208.32 333.2v-2.1M208.32 179.5v2.1M250.15 333.2v-2.1M250.15 179.5v2.1M291.98 333.2v-2.1M291.98 179.5v2.1M333.81 333.2v-2.1M333.81 179.5v2.1M375.64 333.2v-2.1M375.64 179.5v2.1M417.47 333.2v-2.1M417.47 179.5v2.1M459.3 333.2v-2.1M459.3 179.5v2.1M501.13 333.2v-2.1M501.13 179.5v2.1M542.96 333.2v-2.1M542.96 179.5v2.1M82.83 486.3v-2.1M82.83 333.2v2.1M124.66 486.3v-2.1M124.66 333.2v2.1M166.49 486.3v-2.1M166.49 333.2v2.1M208.32 486.3v-2.1M208.32 333.2v2.1M250.15 486.3v-2.1M250.15 333.2v2.1M291.98 486.3v-2.1M291.98 333.2v2.1M333.81 486.3v-2.1M333.81 333.2v2.1M375.64 486.3v-2.1M375.64 333.2v2.1M417.47 486.3v-2.1M417.47 333.2v2.1M459.3 486.3v-2.1M459.3 333.2v2.1M501.13 486.3v-2.1M501.13 333.2v2.1M542.96 486.3v-2.1M542.96 333.2v2.1M41 164.22h2.1M41 148.95h2.1M41 133.68h2.1M41 118.4h2.1M41 103.12h2.1M41 87.85h2.1M41 72.58h2.1M41 57.3h2.1M576.35 39.48h-2.1M576.35 52.21h-2.1M576.35 64.94h-2.1M576.35 77.67h-2.1M576.35 90.4h-2.1M576.35 103.12h-2.1M576.35 115.85h-2.1M576.35 128.58h-2.1M576.35 141.31h-2.1M576.35 154.04h-2.1M576.35 166.77h-2.1M41 321.38h2.1M576.35 321.38h-2.1M41 309.55h2.1M576.35 309.55h-2.1M41 297.73h2.1M576.35 297.73h-2.1M41 285.91h2.1M576.35 285.91h-2.1M41 274.08h2.1M576.35 274.08h-2.1M41 262.26h2.1M576.35 262.26h-2.1M41 250.44h2.1M576.35 250.44h-2.1M41 238.62h2.1M576.35 238.62h-2.1M41 226.79h2.1M576.35 226.79h-2.1M41 214.97h2.1M576.35 214.97h-2.1M41 203.15h2.1M576.35 203.15h-2.1M41 191.32h2.1M576.35 191.32h-2.1M41 467.16h2.1M576.35 467.16h-2.1M41 448.02h2.1M576.35 448.02h-2.1M41 428.89h2.1M576.35 428.89h-2.1M41 409.75h2.1M576.35 409.75h-2.1M41 390.61h2.1M576.35 390.61h-2.1M41 371.48h2.1M576.35 371.48h-2.1" stroke="#000" stroke-width="0.7" fill="none"/>
<g font-size="9.5" fill="#000">
<text x="38.8" y="166.82" text-anchor="end">110</text>
<text x="38.8" y="151.55" text-anchor="end">120</text>
<text x="38.8" y="136.28" text-anchor="end">130</text>
<text x="38.8" y="121" text-anchor="end">140</text>
<text x="38.8" y="105.72" text-anchor="end">150</text>
<text x="38.8" y="90.45" text-anchor="end">160</text>
<text x="38.8" y="75.17" text-anchor="end">170</text>
<text x="38.8" y="59.9" text-anchor="end">180</text>
<text x="579.6" y="42.08">1:35</text>
<text x="579.6" y="54.81">1:40</text>
<text x="579.6" y="67.54">1:45</text>
<text x="579.6" y="80.27">1:50</text>
<text x="579.6" y="93">1:55</text>
<text x="579.6" y="105.72">2:00</text>
<text x="579.6" y="118.45">2:05</text>
<text x="579.6" y="131.18">2:10</text>
<text x="579.6" y="143.91">2:15</text>
<text x="579.6" y="156.64">2:20</text>
<text x="579.6" y="169.37">2:25</text>
<text x="38.6" y="323.98" text-anchor="end">16</text>
<text x="38.6" y="312.15" text-anchor="end">18</text>
<text x="38.6" y="300.33" text-anchor="end">20</text>
<text x="38.6" y="288.51" text-anchor="end">22</text>
<text x="38.6" y="276.68" text-anchor="end">24</text>
<text x="38.6" y="264.86" text-anchor="end">26</text>
<text x="38.6" y="253.04" text-anchor="end">28</text>
<text x="38.6" y="241.22" text-anchor="end">30</text>
<text x="38.6" y="229.39" text-anchor="end">32</text>
<text x="38.6" y="217.57" text-anchor="end">34</text>
<text x="38.6" y="205.75" text-anchor="end">36</text>
<text x="38.6" y="193.92" text-anchor="end">38</text>
<text x="38.6" y="469.76" text-anchor="end">150</text>
<text x="38.6" y="450.62" text-anchor="end">200</text>
<text x="38.6" y="431.49" text-anchor="end">250</text>
<text x="38.6" y="412.35" text-anchor="end">300</text>
<text x="38.6" y="393.21" text-anchor="end">350</text>
<text x="38.6" y="374.08" text-anchor="end">400</text>
<text x="41" y="497.0" text-anchor="middle">0:00</text>
<text x="82.83" y="497.0" text-anchor="middle">0:05</text>
<text x="124.66" y="497.0" text-anchor="middle">0:10</text>
<text x="166.49" y="497.0" text-anchor="middle">0:15</text>
<text x="208.32" y="497.0" text-anchor="middle">0:20</text>
<text x="250.15" y="497.0" text-anchor="middle">0:25</text>
<text x="291.98" y="497.0" text-anchor="middle">0:30</text>
<text x="333.81" y="497.0" text-anchor="middle">0:35</text>
<text x="375.64" y="497.0" text-anchor="middle">0:40</text>
<text x="417.47" y="497.0" text-anchor="middle">0:45</text>
<text x="459.3" y="497.0" text-anchor="middle">0:50</text>
<text x="501.13" y="497.0" text-anchor="middle">0:55</text>
<text x="542.96" y="497.0" text-anchor="middle">1:00</text>
<text x="309" y="510" text-anchor="middle" font-size="9.7">Time (h:m)</text>
<text transform="translate(16.4,103.1) rotate(-90)" text-anchor="middle" font-size="9.7">BPM</text>
<text transform="translate(20.9,256.3) rotate(-90)" text-anchor="middle" font-size="9.7">SPM</text>
<text transform="translate(16.4,409.8) rotate(-90)" text-anchor="middle" font-size="9.7">Watts</text>
<text transform="translate(608.6,102.8) rotate(-90)" text-anchor="middle" font-size="9.7">(sec/500)</text>
</g>
<text x="309.7" y="22.5" text-anchor="middle" font-size="11.55" fill="#000" xml:space="preserve">Input File:  sled_2016-05-05T07-27-23.strokes.csv --- HR / Pace / Rate / Power</text>
</svg>
</body></html>
